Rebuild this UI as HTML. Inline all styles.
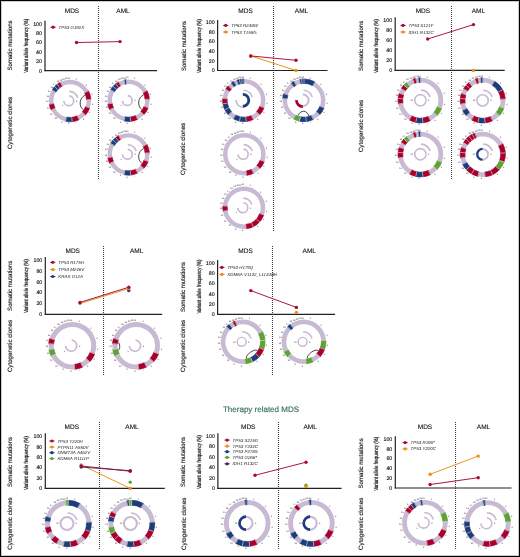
<!DOCTYPE html>
<html><head><meta charset="utf-8"><style>
html,body{margin:0;padding:0;background:#fff;}
#f{position:relative;width:520px;height:557px;overflow:hidden;background:#fff;}
#f svg{position:absolute;left:0;top:0;will-change:transform;}
#b{position:absolute;left:0;top:0;width:518px;height:555px;border:1px solid #000;box-shadow:inset 0 0 0 1px rgba(0,0,0,0.2);}
text{font-family:"Liberation Sans", sans-serif;text-rendering:geometricPrecision;}
</style></head><body><div id="f">
<svg width="520" height="557" viewBox="0 0 520 557" font-family='"Liberation Sans", sans-serif'>
<g><line x1="98.5" y1="6" x2="98.5" y2="179" stroke="#3a3a3a" stroke-width="1.1" stroke-dasharray="1 1"/><line x1="45" y1="20.8" x2="45" y2="71.3" stroke="#222" stroke-width="1.2"/><line x1="44.4" y1="70.7" x2="157" y2="70.7" stroke="#222" stroke-width="1.2"/><text x="42.00" y="72.55" font-size="5.3" text-anchor="end" fill="#1a1a1a" font-weight="normal" font-style="normal" stroke="#1a1a1a" stroke-width="0.15">0</text><text x="42.00" y="63.17" font-size="5.3" text-anchor="end" fill="#1a1a1a" font-weight="normal" font-style="normal" stroke="#1a1a1a" stroke-width="0.15">20</text><text x="42.00" y="53.79" font-size="5.3" text-anchor="end" fill="#1a1a1a" font-weight="normal" font-style="normal" stroke="#1a1a1a" stroke-width="0.15">40</text><text x="42.00" y="44.41" font-size="5.3" text-anchor="end" fill="#1a1a1a" font-weight="normal" font-style="normal" stroke="#1a1a1a" stroke-width="0.15">60</text><text x="42.00" y="35.03" font-size="5.3" text-anchor="end" fill="#1a1a1a" font-weight="normal" font-style="normal" stroke="#1a1a1a" stroke-width="0.15">80</text><text x="42.00" y="25.65" font-size="5.3" text-anchor="end" fill="#1a1a1a" font-weight="normal" font-style="normal" stroke="#1a1a1a" stroke-width="0.15">100</text><text x="72.00" y="13.20" font-size="6.5" text-anchor="middle" fill="#111" font-weight="normal" font-style="normal" stroke="#111" stroke-width="0.1">MDS</text><text x="123.00" y="13.20" font-size="6.5" text-anchor="middle" fill="#111" font-weight="normal" font-style="normal" stroke="#111" stroke-width="0.1">AML</text><line x1="76.5" y1="42.56" x2="120" y2="41.62" stroke="#ab0a2e" stroke-width="0.95"/><circle cx="76.5" cy="42.56" r="1.7" fill="#ab0a2e"/><circle cx="120" cy="41.62" r="1.7" fill="#ab0a2e"/><line x1="50.5" y1="27.2" x2="55.7" y2="27.2" stroke="#ab0a2e" stroke-width="1.0"/><circle cx="53.1" cy="27.2" r="1.6" fill="#ab0a2e"/><text x="58.60" y="28.75" font-size="4.45" fill="#222"><tspan font-style="italic">TP53</tspan> <tspan font-style="italic">G192X</tspan></text><text x="12.15" y="45.50" font-size="6.2" text-anchor="middle" fill="#1a1a1a" font-weight="normal" font-style="normal" transform="rotate(-90 12.15 45.50)" textLength="50.2" lengthAdjust="spacingAndGlyphs" stroke="#1a1a1a" stroke-width="0.15">Somatic mutations</text><text x="28.00" y="45.80" font-size="5.9" text-anchor="middle" fill="#1a1a1a" font-weight="normal" font-style="normal" transform="rotate(-90 28.00 45.80)" textLength="54" lengthAdjust="spacingAndGlyphs" stroke="#1a1a1a" stroke-width="0.2">Variant allele frequency (%)</text><text x="12.00" y="123.00" font-size="6.25" text-anchor="middle" fill="#1a1a1a" font-weight="normal" font-style="normal" transform="rotate(-90 12.00 123.00)" textLength="52.2" lengthAdjust="spacingAndGlyphs" stroke="#1a1a1a" stroke-width="0.15">Cytogenetic clones</text></g><g><line x1="273.5" y1="6" x2="273.5" y2="231.5" stroke="#3a3a3a" stroke-width="1.1" stroke-dasharray="1 1"/><line x1="217.6" y1="19.9" x2="217.6" y2="71.1" stroke="#222" stroke-width="1.2"/><line x1="217.0" y1="70.5" x2="327.5" y2="70.5" stroke="#222" stroke-width="1.2"/><text x="214.60" y="72.35" font-size="5.3" text-anchor="end" fill="#1a1a1a" font-weight="normal" font-style="normal" stroke="#1a1a1a" stroke-width="0.15">0</text><text x="214.60" y="62.65" font-size="5.3" text-anchor="end" fill="#1a1a1a" font-weight="normal" font-style="normal" stroke="#1a1a1a" stroke-width="0.15">20</text><text x="214.60" y="52.95" font-size="5.3" text-anchor="end" fill="#1a1a1a" font-weight="normal" font-style="normal" stroke="#1a1a1a" stroke-width="0.15">40</text><text x="214.60" y="43.25" font-size="5.3" text-anchor="end" fill="#1a1a1a" font-weight="normal" font-style="normal" stroke="#1a1a1a" stroke-width="0.15">60</text><text x="214.60" y="33.55" font-size="5.3" text-anchor="end" fill="#1a1a1a" font-weight="normal" font-style="normal" stroke="#1a1a1a" stroke-width="0.15">80</text><text x="214.60" y="23.85" font-size="5.3" text-anchor="end" fill="#1a1a1a" font-weight="normal" font-style="normal" stroke="#1a1a1a" stroke-width="0.15">100</text><text x="245.60" y="13.20" font-size="6.5" text-anchor="middle" fill="#111" font-weight="normal" font-style="normal" stroke="#111" stroke-width="0.1">MDS</text><text x="301.50" y="13.20" font-size="6.5" text-anchor="middle" fill="#111" font-weight="normal" font-style="normal" stroke="#111" stroke-width="0.1">AML</text><line x1="250.8" y1="55.95" x2="296" y2="70.50" stroke="#e6900f" stroke-width="0.95"/><line x1="250.8" y1="55.95" x2="296" y2="60.31" stroke="#ab0a2e" stroke-width="0.95"/><circle cx="250.8" cy="55.95" r="1.7" fill="#e6900f"/><circle cx="296" cy="70.50" r="1.7" fill="#e6900f"/><circle cx="250.8" cy="55.95" r="1.7" fill="#ab0a2e"/><circle cx="296" cy="60.31" r="1.7" fill="#ab0a2e"/><line x1="223.1" y1="25.4" x2="228.29999999999998" y2="25.4" stroke="#ab0a2e" stroke-width="1.0"/><circle cx="225.7" cy="25.4" r="1.6" fill="#ab0a2e"/><text x="231.20" y="26.95" font-size="4.45" fill="#222"><tspan font-style="italic">TP53</tspan> <tspan font-style="italic">R248W</tspan></text><line x1="223.1" y1="32.0" x2="228.29999999999998" y2="32.0" stroke="#e6900f" stroke-width="1.0"/><circle cx="225.7" cy="32.0" r="1.6" fill="#e6900f"/><text x="231.20" y="33.55" font-size="4.45" fill="#222"><tspan font-style="italic">TP53</tspan> <tspan font-style="italic">T155fs</tspan></text><text x="185.75" y="46.00" font-size="6.2" text-anchor="middle" fill="#1a1a1a" font-weight="normal" font-style="normal" transform="rotate(-90 185.75 46.00)" textLength="50.2" lengthAdjust="spacingAndGlyphs" stroke="#1a1a1a" stroke-width="0.15">Somatic mutations</text><text x="200.60" y="46.00" font-size="5.9" text-anchor="middle" fill="#1a1a1a" font-weight="normal" font-style="normal" transform="rotate(-90 200.60 46.00)" textLength="54" lengthAdjust="spacingAndGlyphs" stroke="#1a1a1a" stroke-width="0.2">Variant allele frequency (%)</text><text x="185.00" y="149.00" font-size="6.25" text-anchor="middle" fill="#1a1a1a" font-weight="normal" font-style="normal" transform="rotate(-90 185.00 149.00)" textLength="52.2" lengthAdjust="spacingAndGlyphs" stroke="#1a1a1a" stroke-width="0.15">Cytogenetic clones</text></g><g><line x1="451.5" y1="6" x2="451.5" y2="179.4" stroke="#3a3a3a" stroke-width="1.1" stroke-dasharray="1 1"/><line x1="395.2" y1="17.3" x2="395.2" y2="71.0" stroke="#222" stroke-width="1.2"/><line x1="394.59999999999997" y1="70.4" x2="504.7" y2="70.4" stroke="#222" stroke-width="1.2"/><text x="392.20" y="72.25" font-size="5.3" text-anchor="end" fill="#1a1a1a" font-weight="normal" font-style="normal" stroke="#1a1a1a" stroke-width="0.15">0</text><text x="392.20" y="62.29" font-size="5.3" text-anchor="end" fill="#1a1a1a" font-weight="normal" font-style="normal" stroke="#1a1a1a" stroke-width="0.15">20</text><text x="392.20" y="52.33" font-size="5.3" text-anchor="end" fill="#1a1a1a" font-weight="normal" font-style="normal" stroke="#1a1a1a" stroke-width="0.15">40</text><text x="392.20" y="42.37" font-size="5.3" text-anchor="end" fill="#1a1a1a" font-weight="normal" font-style="normal" stroke="#1a1a1a" stroke-width="0.15">60</text><text x="392.20" y="32.41" font-size="5.3" text-anchor="end" fill="#1a1a1a" font-weight="normal" font-style="normal" stroke="#1a1a1a" stroke-width="0.15">80</text><text x="392.20" y="22.45" font-size="5.3" text-anchor="end" fill="#1a1a1a" font-weight="normal" font-style="normal" stroke="#1a1a1a" stroke-width="0.15">100</text><text x="422.90" y="13.20" font-size="6.5" text-anchor="middle" fill="#111" font-weight="normal" font-style="normal" stroke="#111" stroke-width="0.1">MDS</text><text x="478.40" y="13.20" font-size="6.5" text-anchor="middle" fill="#111" font-weight="normal" font-style="normal" stroke="#111" stroke-width="0.1">AML</text><line x1="427.7" y1="39.03" x2="473.5" y2="24.58" stroke="#ab0a2e" stroke-width="0.95"/><circle cx="473.5" cy="70.40" r="1.7" fill="#e6900f"/><circle cx="427.7" cy="39.03" r="1.7" fill="#ab0a2e"/><circle cx="473.5" cy="24.58" r="1.7" fill="#ab0a2e"/><line x1="400.4" y1="25.4" x2="405.6" y2="25.4" stroke="#ab0a2e" stroke-width="1.0"/><circle cx="403" cy="25.4" r="1.6" fill="#ab0a2e"/><text x="408.50" y="26.95" font-size="4.45" fill="#222"><tspan font-style="italic">TP53</tspan> <tspan font-style="italic">S121F</tspan></text><line x1="400.4" y1="32.0" x2="405.6" y2="32.0" stroke="#e6900f" stroke-width="1.0"/><circle cx="403" cy="32.0" r="1.6" fill="#e6900f"/><text x="408.50" y="33.55" font-size="4.45" fill="#222"><tspan font-style="italic">IDH1</tspan> <tspan font-style="italic">R132C</tspan></text><text x="362.55" y="45.80" font-size="6.2" text-anchor="middle" fill="#1a1a1a" font-weight="normal" font-style="normal" transform="rotate(-90 362.55 45.80)" textLength="50.2" lengthAdjust="spacingAndGlyphs" stroke="#1a1a1a" stroke-width="0.15">Somatic mutations</text><text x="378.20" y="46.00" font-size="5.9" text-anchor="middle" fill="#1a1a1a" font-weight="normal" font-style="normal" transform="rotate(-90 378.20 46.00)" textLength="54" lengthAdjust="spacingAndGlyphs" stroke="#1a1a1a" stroke-width="0.2">Variant allele frequency (%)</text><text x="362.80" y="126.00" font-size="6.25" text-anchor="middle" fill="#1a1a1a" font-weight="normal" font-style="normal" transform="rotate(-90 362.80 126.00)" textLength="52.2" lengthAdjust="spacingAndGlyphs" stroke="#1a1a1a" stroke-width="0.15">Cytogenetic clones</text></g><g><line x1="103.5" y1="246" x2="103.5" y2="375.8" stroke="#3a3a3a" stroke-width="1.1" stroke-dasharray="1 1"/><line x1="45.3" y1="257.1" x2="45.3" y2="315.0" stroke="#222" stroke-width="1.2"/><line x1="44.699999999999996" y1="314.4" x2="162.2" y2="314.4" stroke="#222" stroke-width="1.2"/><text x="42.30" y="316.25" font-size="5.3" text-anchor="end" fill="#1a1a1a" font-weight="normal" font-style="normal" stroke="#1a1a1a" stroke-width="0.15">0</text><text x="42.30" y="305.37" font-size="5.3" text-anchor="end" fill="#1a1a1a" font-weight="normal" font-style="normal" stroke="#1a1a1a" stroke-width="0.15">20</text><text x="42.30" y="294.49" font-size="5.3" text-anchor="end" fill="#1a1a1a" font-weight="normal" font-style="normal" stroke="#1a1a1a" stroke-width="0.15">40</text><text x="42.30" y="283.61" font-size="5.3" text-anchor="end" fill="#1a1a1a" font-weight="normal" font-style="normal" stroke="#1a1a1a" stroke-width="0.15">60</text><text x="42.30" y="272.73" font-size="5.3" text-anchor="end" fill="#1a1a1a" font-weight="normal" font-style="normal" stroke="#1a1a1a" stroke-width="0.15">80</text><text x="42.30" y="261.85" font-size="5.3" text-anchor="end" fill="#1a1a1a" font-weight="normal" font-style="normal" stroke="#1a1a1a" stroke-width="0.15">100</text><text x="72.70" y="253.20" font-size="6.5" text-anchor="middle" fill="#111" font-weight="normal" font-style="normal" stroke="#111" stroke-width="0.1">MDS</text><text x="136.60" y="253.20" font-size="6.5" text-anchor="middle" fill="#111" font-weight="normal" font-style="normal" stroke="#111" stroke-width="0.1">AML</text><line x1="80" y1="303.52" x2="128.8" y2="288.56" stroke="#e6900f" stroke-width="0.95"/><line x1="80" y1="302.43" x2="128.8" y2="287.20" stroke="#ab0a2e" stroke-width="0.95"/><circle cx="128.8" cy="290.46" r="1.7" fill="#1d3c7c"/><circle cx="80" cy="303.52" r="1.7" fill="#e6900f"/><circle cx="128.8" cy="288.56" r="1.7" fill="#e6900f"/><circle cx="80" cy="302.43" r="1.7" fill="#ab0a2e"/><circle cx="128.8" cy="287.20" r="1.7" fill="#ab0a2e"/><line x1="50.199999999999996" y1="262.3" x2="55.4" y2="262.3" stroke="#ab0a2e" stroke-width="1.0"/><circle cx="52.8" cy="262.3" r="1.6" fill="#ab0a2e"/><text x="58.30" y="263.85" font-size="4.45" fill="#222"><tspan font-style="italic">TP53</tspan> <tspan font-style="italic">R175H</tspan></text><line x1="50.199999999999996" y1="269.6" x2="55.4" y2="269.6" stroke="#e6900f" stroke-width="1.0"/><circle cx="52.8" cy="269.6" r="1.6" fill="#e6900f"/><text x="58.30" y="271.15" font-size="4.45" fill="#222"><tspan font-style="italic">TP53</tspan> <tspan font-style="italic">M246V</tspan></text><line x1="50.199999999999996" y1="276.5" x2="55.4" y2="276.5" stroke="#1d3c7c" stroke-width="1.0"/><circle cx="52.8" cy="276.5" r="1.6" fill="#1d3c7c"/><text x="58.30" y="278.05" font-size="4.45" fill="#222"><tspan font-style="italic">KRAS</tspan> <tspan font-style="italic">G12A</tspan></text><text x="12.35" y="285.80" font-size="6.2" text-anchor="middle" fill="#1a1a1a" font-weight="normal" font-style="normal" transform="rotate(-90 12.35 285.80)" textLength="50.2" lengthAdjust="spacingAndGlyphs" stroke="#1a1a1a" stroke-width="0.15">Somatic mutations</text><text x="28.10" y="286.00" font-size="5.9" text-anchor="middle" fill="#1a1a1a" font-weight="normal" font-style="normal" transform="rotate(-90 28.10 286.00)" textLength="54" lengthAdjust="spacingAndGlyphs" stroke="#1a1a1a" stroke-width="0.2">Variant allele frequency (%)</text><text x="12.40" y="346.00" font-size="6.25" text-anchor="middle" fill="#1a1a1a" font-weight="normal" font-style="normal" transform="rotate(-90 12.40 346.00)" textLength="52.2" lengthAdjust="spacingAndGlyphs" stroke="#1a1a1a" stroke-width="0.15">Cytogenetic clones</text></g><g><line x1="272.5" y1="246" x2="272.5" y2="375.8" stroke="#3a3a3a" stroke-width="1.1" stroke-dasharray="1 1"/><line x1="217.6" y1="260.0" x2="217.6" y2="315.0" stroke="#222" stroke-width="1.2"/><line x1="217.0" y1="314.4" x2="335.1" y2="314.4" stroke="#222" stroke-width="1.2"/><text x="214.60" y="316.25" font-size="5.3" text-anchor="end" fill="#1a1a1a" font-weight="normal" font-style="normal" stroke="#1a1a1a" stroke-width="0.15">0</text><text x="214.60" y="305.91" font-size="5.3" text-anchor="end" fill="#1a1a1a" font-weight="normal" font-style="normal" stroke="#1a1a1a" stroke-width="0.15">20</text><text x="214.60" y="295.57" font-size="5.3" text-anchor="end" fill="#1a1a1a" font-weight="normal" font-style="normal" stroke="#1a1a1a" stroke-width="0.15">40</text><text x="214.60" y="285.23" font-size="5.3" text-anchor="end" fill="#1a1a1a" font-weight="normal" font-style="normal" stroke="#1a1a1a" stroke-width="0.15">60</text><text x="214.60" y="274.89" font-size="5.3" text-anchor="end" fill="#1a1a1a" font-weight="normal" font-style="normal" stroke="#1a1a1a" stroke-width="0.15">80</text><text x="214.60" y="264.55" font-size="5.3" text-anchor="end" fill="#1a1a1a" font-weight="normal" font-style="normal" stroke="#1a1a1a" stroke-width="0.15">100</text><text x="245.60" y="253.20" font-size="6.5" text-anchor="middle" fill="#111" font-weight="normal" font-style="normal" stroke="#111" stroke-width="0.1">MDS</text><text x="309.30" y="253.20" font-size="6.5" text-anchor="middle" fill="#111" font-weight="normal" font-style="normal" stroke="#111" stroke-width="0.1">AML</text><line x1="250.8" y1="290.62" x2="296.4" y2="307.42" stroke="#ab0a2e" stroke-width="0.95"/><circle cx="296.4" cy="312.33" r="1.7" fill="#e6900f"/><circle cx="250.8" cy="290.62" r="1.7" fill="#ab0a2e"/><circle cx="296.4" cy="307.42" r="1.7" fill="#ab0a2e"/><line x1="219.3" y1="267.4" x2="224.5" y2="267.4" stroke="#ab0a2e" stroke-width="1.0"/><circle cx="221.9" cy="267.4" r="1.6" fill="#ab0a2e"/><text x="227.40" y="268.95" font-size="4.45" fill="#222"><tspan font-style="italic">TP53</tspan> <tspan font-style="italic">H179Q</tspan></text><line x1="219.3" y1="274.4" x2="224.5" y2="274.4" stroke="#e6900f" stroke-width="1.0"/><circle cx="221.9" cy="274.4" r="1.6" fill="#e6900f"/><text x="227.40" y="275.95" font-size="4.45" fill="#222"><tspan font-style="italic">KDM6A</tspan> <tspan font-style="italic">V1132_L1134del</tspan></text><text x="184.95" y="287.00" font-size="6.2" text-anchor="middle" fill="#1a1a1a" font-weight="normal" font-style="normal" transform="rotate(-90 184.95 287.00)" textLength="50.2" lengthAdjust="spacingAndGlyphs" stroke="#1a1a1a" stroke-width="0.15">Somatic mutations</text><text x="200.60" y="286.50" font-size="5.9" text-anchor="middle" fill="#1a1a1a" font-weight="normal" font-style="normal" transform="rotate(-90 200.60 286.50)" textLength="54" lengthAdjust="spacingAndGlyphs" stroke="#1a1a1a" stroke-width="0.2">Variant allele frequency (%)</text><text x="185.30" y="346.00" font-size="6.25" text-anchor="middle" fill="#1a1a1a" font-weight="normal" font-style="normal" transform="rotate(-90 185.30 346.00)" textLength="52.2" lengthAdjust="spacingAndGlyphs" stroke="#1a1a1a" stroke-width="0.15">Cytogenetic clones</text></g><g><line x1="99.5" y1="422" x2="99.5" y2="549.6" stroke="#3a3a3a" stroke-width="1.1" stroke-dasharray="1 1"/><line x1="45.3" y1="433.2" x2="45.3" y2="489.0" stroke="#222" stroke-width="1.2"/><line x1="44.699999999999996" y1="488.4" x2="164.8" y2="488.4" stroke="#222" stroke-width="1.2"/><text x="42.30" y="490.25" font-size="5.3" text-anchor="end" fill="#1a1a1a" font-weight="normal" font-style="normal" stroke="#1a1a1a" stroke-width="0.15">0</text><text x="42.30" y="479.83" font-size="5.3" text-anchor="end" fill="#1a1a1a" font-weight="normal" font-style="normal" stroke="#1a1a1a" stroke-width="0.15">20</text><text x="42.30" y="469.41" font-size="5.3" text-anchor="end" fill="#1a1a1a" font-weight="normal" font-style="normal" stroke="#1a1a1a" stroke-width="0.15">40</text><text x="42.30" y="458.99" font-size="5.3" text-anchor="end" fill="#1a1a1a" font-weight="normal" font-style="normal" stroke="#1a1a1a" stroke-width="0.15">60</text><text x="42.30" y="448.57" font-size="5.3" text-anchor="end" fill="#1a1a1a" font-weight="normal" font-style="normal" stroke="#1a1a1a" stroke-width="0.15">80</text><text x="42.30" y="438.15" font-size="5.3" text-anchor="end" fill="#1a1a1a" font-weight="normal" font-style="normal" stroke="#1a1a1a" stroke-width="0.15">100</text><text x="71.80" y="429.00" font-size="6.5" text-anchor="middle" fill="#111" font-weight="normal" font-style="normal" stroke="#111" stroke-width="0.1">MDS</text><text x="132.00" y="429.00" font-size="6.5" text-anchor="middle" fill="#111" font-weight="normal" font-style="normal" stroke="#111" stroke-width="0.1">AML</text><line x1="81.2" y1="464.95" x2="130.2" y2="488.40" stroke="#e6900f" stroke-width="0.95"/><line x1="81.2" y1="467.04" x2="130.2" y2="470.69" stroke="#1d3c7c" stroke-width="0.95"/><line x1="81.2" y1="466.00" x2="130.2" y2="471.21" stroke="#ab0a2e" stroke-width="0.95"/><circle cx="130.2" cy="482.15" r="1.7" fill="#5ea236"/><circle cx="81.2" cy="464.95" r="1.7" fill="#e6900f"/><circle cx="130.2" cy="488.40" r="1.7" fill="#e6900f"/><circle cx="81.2" cy="467.04" r="1.7" fill="#1d3c7c"/><circle cx="130.2" cy="470.69" r="1.7" fill="#1d3c7c"/><circle cx="81.2" cy="466.00" r="1.7" fill="#ab0a2e"/><circle cx="130.2" cy="471.21" r="1.7" fill="#ab0a2e"/><line x1="49.3" y1="441" x2="54.5" y2="441" stroke="#ab0a2e" stroke-width="1.0"/><circle cx="51.9" cy="441" r="1.6" fill="#ab0a2e"/><text x="57.40" y="442.55" font-size="4.45" fill="#222"><tspan font-style="italic">TP53</tspan> <tspan font-style="italic">Y220H</tspan></text><line x1="49.3" y1="447" x2="54.5" y2="447" stroke="#e6900f" stroke-width="1.0"/><circle cx="51.9" cy="447" r="1.6" fill="#e6900f"/><text x="57.40" y="448.55" font-size="4.45" fill="#222"><tspan font-style="italic">PTPN11</tspan> <tspan font-style="italic">A550V</tspan></text><line x1="49.3" y1="452.7" x2="54.5" y2="452.7" stroke="#1d3c7c" stroke-width="1.0"/><circle cx="51.9" cy="452.7" r="1.6" fill="#1d3c7c"/><text x="57.40" y="454.25" font-size="4.45" fill="#222"><tspan font-style="italic">DNMT3A</tspan> <tspan font-style="italic">A462V</tspan></text><line x1="49.3" y1="458.6" x2="54.5" y2="458.6" stroke="#5ea236" stroke-width="1.0"/><circle cx="51.9" cy="458.6" r="1.6" fill="#5ea236"/><text x="57.40" y="460.15" font-size="4.45" fill="#222"><tspan font-style="italic">KDM6A</tspan> <tspan font-style="italic">R1111P</tspan></text><text x="12.35" y="462.00" font-size="6.2" text-anchor="middle" fill="#1a1a1a" font-weight="normal" font-style="normal" transform="rotate(-90 12.35 462.00)" textLength="50.2" lengthAdjust="spacingAndGlyphs" stroke="#1a1a1a" stroke-width="0.15">Somatic mutations</text><text x="28.10" y="463.00" font-size="5.9" text-anchor="middle" fill="#1a1a1a" font-weight="normal" font-style="normal" transform="rotate(-90 28.10 463.00)" textLength="54" lengthAdjust="spacingAndGlyphs" stroke="#1a1a1a" stroke-width="0.2">Variant allele frequency (%)</text><text x="12.40" y="523.60" font-size="6.25" text-anchor="middle" fill="#1a1a1a" font-weight="normal" font-style="normal" transform="rotate(-90 12.40 523.60)" textLength="52.2" lengthAdjust="spacingAndGlyphs" stroke="#1a1a1a" stroke-width="0.15">Cytogenetic clones</text></g><g><line x1="278.5" y1="422" x2="278.5" y2="549.6" stroke="#3a3a3a" stroke-width="1.1" stroke-dasharray="1 1"/><line x1="217.9" y1="433.2" x2="217.9" y2="489.0" stroke="#222" stroke-width="1.2"/><line x1="217.3" y1="488.4" x2="341.6" y2="488.4" stroke="#222" stroke-width="1.2"/><text x="214.90" y="490.25" font-size="5.3" text-anchor="end" fill="#1a1a1a" font-weight="normal" font-style="normal" stroke="#1a1a1a" stroke-width="0.15">0</text><text x="214.90" y="479.77" font-size="5.3" text-anchor="end" fill="#1a1a1a" font-weight="normal" font-style="normal" stroke="#1a1a1a" stroke-width="0.15">20</text><text x="214.90" y="469.29" font-size="5.3" text-anchor="end" fill="#1a1a1a" font-weight="normal" font-style="normal" stroke="#1a1a1a" stroke-width="0.15">40</text><text x="214.90" y="458.81" font-size="5.3" text-anchor="end" fill="#1a1a1a" font-weight="normal" font-style="normal" stroke="#1a1a1a" stroke-width="0.15">60</text><text x="214.90" y="448.33" font-size="5.3" text-anchor="end" fill="#1a1a1a" font-weight="normal" font-style="normal" stroke="#1a1a1a" stroke-width="0.15">80</text><text x="214.90" y="437.85" font-size="5.3" text-anchor="end" fill="#1a1a1a" font-weight="normal" font-style="normal" stroke="#1a1a1a" stroke-width="0.15">100</text><text x="248.20" y="429.00" font-size="6.5" text-anchor="middle" fill="#111" font-weight="normal" font-style="normal" stroke="#111" stroke-width="0.1">MDS</text><text x="310.20" y="429.00" font-size="6.5" text-anchor="middle" fill="#111" font-weight="normal" font-style="normal" stroke="#111" stroke-width="0.1">AML</text><line x1="255" y1="475.30" x2="306" y2="462.20" stroke="#ab0a2e" stroke-width="0.95"/><circle cx="306" cy="485.26" r="1.7" fill="#5ea236"/><circle cx="306" cy="486.57" r="1.7" fill="#e6900f"/><circle cx="255" cy="475.30" r="1.7" fill="#ab0a2e"/><circle cx="306" cy="462.20" r="1.7" fill="#ab0a2e"/><line x1="224.5" y1="440.1" x2="229.7" y2="440.1" stroke="#ab0a2e" stroke-width="1.0"/><circle cx="227.1" cy="440.1" r="1.6" fill="#ab0a2e"/><text x="232.60" y="441.65" font-size="4.45" fill="#222"><tspan font-style="italic">TP53</tspan> <tspan font-style="italic">S215G</tspan></text><line x1="224.5" y1="446.1" x2="229.7" y2="446.1" stroke="#e6900f" stroke-width="1.0"/><circle cx="227.1" cy="446.1" r="1.6" fill="#e6900f"/><text x="232.60" y="447.65" font-size="4.45" fill="#222"><tspan font-style="italic">TP53</tspan> <tspan font-style="italic">Y234C</tspan></text><line x1="224.5" y1="451.7" x2="229.7" y2="451.7" stroke="#1d3c7c" stroke-width="1.0"/><circle cx="227.1" cy="451.7" r="1.6" fill="#1d3c7c"/><text x="232.60" y="453.25" font-size="4.45" fill="#222"><tspan font-style="italic">TP53</tspan> <tspan font-style="italic">P278S</tspan></text><line x1="224.5" y1="457.4" x2="229.7" y2="457.4" stroke="#5ea236" stroke-width="1.0"/><circle cx="227.1" cy="457.4" r="1.6" fill="#5ea236"/><text x="232.60" y="458.95" font-size="4.45" fill="#222"><tspan font-style="italic">TP53</tspan> <tspan font-style="italic">G266*</tspan></text><line x1="224.5" y1="463.8" x2="229.7" y2="463.8" stroke="#4a1f6a" stroke-width="1.0"/><circle cx="227.1" cy="463.8" r="1.6" fill="#4a1f6a"/><text x="232.60" y="465.35" font-size="4.45" fill="#222"><tspan font-style="italic">IDH1</tspan> <tspan font-style="italic">R132C</tspan></text><text x="185.45" y="462.00" font-size="6.2" text-anchor="middle" fill="#1a1a1a" font-weight="normal" font-style="normal" transform="rotate(-90 185.45 462.00)" textLength="50.2" lengthAdjust="spacingAndGlyphs" stroke="#1a1a1a" stroke-width="0.15">Somatic mutations</text><text x="200.60" y="462.00" font-size="5.9" text-anchor="middle" fill="#1a1a1a" font-weight="normal" font-style="normal" transform="rotate(-90 200.60 462.00)" textLength="54" lengthAdjust="spacingAndGlyphs" stroke="#1a1a1a" stroke-width="0.2">Variant allele frequency (%)</text><text x="185.80" y="523.80" font-size="6.25" text-anchor="middle" fill="#1a1a1a" font-weight="normal" font-style="normal" transform="rotate(-90 185.80 523.80)" textLength="52.2" lengthAdjust="spacingAndGlyphs" stroke="#1a1a1a" stroke-width="0.15">Cytogenetic clones</text></g><g><line x1="455.5" y1="422" x2="455.5" y2="549.6" stroke="#3a3a3a" stroke-width="1.1" stroke-dasharray="1 1"/><line x1="395.3" y1="436.3" x2="395.3" y2="488.6" stroke="#222" stroke-width="1.2"/><line x1="394.7" y1="488.0" x2="511.6" y2="488.0" stroke="#222" stroke-width="1.2"/><text x="392.30" y="489.85" font-size="5.3" text-anchor="end" fill="#1a1a1a" font-weight="normal" font-style="normal" stroke="#1a1a1a" stroke-width="0.15">0</text><text x="392.30" y="480.03" font-size="5.3" text-anchor="end" fill="#1a1a1a" font-weight="normal" font-style="normal" stroke="#1a1a1a" stroke-width="0.15">20</text><text x="392.30" y="470.21" font-size="5.3" text-anchor="end" fill="#1a1a1a" font-weight="normal" font-style="normal" stroke="#1a1a1a" stroke-width="0.15">40</text><text x="392.30" y="460.39" font-size="5.3" text-anchor="end" fill="#1a1a1a" font-weight="normal" font-style="normal" stroke="#1a1a1a" stroke-width="0.15">60</text><text x="392.30" y="450.57" font-size="5.3" text-anchor="end" fill="#1a1a1a" font-weight="normal" font-style="normal" stroke="#1a1a1a" stroke-width="0.15">80</text><text x="392.30" y="440.75" font-size="5.3" text-anchor="end" fill="#1a1a1a" font-weight="normal" font-style="normal" stroke="#1a1a1a" stroke-width="0.15">100</text><text x="425.00" y="429.00" font-size="6.5" text-anchor="middle" fill="#111" font-weight="normal" font-style="normal" stroke="#111" stroke-width="0.1">MDS</text><text x="483.50" y="429.00" font-size="6.5" text-anchor="middle" fill="#111" font-weight="normal" font-style="normal" stroke="#111" stroke-width="0.1">AML</text><line x1="430.1" y1="474.25" x2="478.2" y2="456.08" stroke="#e6900f" stroke-width="0.95"/><line x1="430.1" y1="484.56" x2="478.2" y2="477.69" stroke="#ab0a2e" stroke-width="0.95"/><circle cx="430.1" cy="474.25" r="1.7" fill="#e6900f"/><circle cx="478.2" cy="456.08" r="1.7" fill="#e6900f"/><circle cx="430.1" cy="484.56" r="1.7" fill="#ab0a2e"/><circle cx="478.2" cy="477.69" r="1.7" fill="#ab0a2e"/><line x1="402.5" y1="442.6" x2="407.70000000000005" y2="442.6" stroke="#ab0a2e" stroke-width="1.0"/><circle cx="405.1" cy="442.6" r="1.6" fill="#ab0a2e"/><text x="410.60" y="444.15" font-size="4.45" fill="#222"><tspan font-style="italic">TP53</tspan> <tspan font-style="italic">R196*</tspan></text><line x1="402.5" y1="448.9" x2="407.70000000000005" y2="448.9" stroke="#e6900f" stroke-width="1.0"/><circle cx="405.1" cy="448.9" r="1.6" fill="#e6900f"/><text x="410.60" y="450.45" font-size="4.45" fill="#222"><tspan font-style="italic">TP53</tspan> <tspan font-style="italic">Y220C</tspan></text><text x="362.65" y="463.40" font-size="6.2" text-anchor="middle" fill="#1a1a1a" font-weight="normal" font-style="normal" transform="rotate(-90 362.65 463.40)" textLength="50.2" lengthAdjust="spacingAndGlyphs" stroke="#1a1a1a" stroke-width="0.15">Somatic mutations</text><text x="378.30" y="463.80" font-size="5.9" text-anchor="middle" fill="#1a1a1a" font-weight="normal" font-style="normal" transform="rotate(-90 378.30 463.80)" textLength="54" lengthAdjust="spacingAndGlyphs" stroke="#1a1a1a" stroke-width="0.2">Variant allele frequency (%)</text><text x="362.70" y="523.80" font-size="6.25" text-anchor="middle" fill="#1a1a1a" font-weight="normal" font-style="normal" transform="rotate(-90 362.70 523.80)" textLength="52.2" lengthAdjust="spacingAndGlyphs" stroke="#1a1a1a" stroke-width="0.15">Cytogenetic clones</text></g><g><circle cx="70.00" cy="100.80" r="18.80" fill="none" stroke="#c9bad4" stroke-width="4.41"/><path d="M88.46,90.79A21.00,21.00 0 0 1 90.96,99.44L86.56,99.72A16.59,16.59 0 0 0 84.58,92.89Z" fill="#a8002c" stroke="#a8002c" stroke-width="0.6" stroke-linejoin="round"/><path d="M89.71,108.04A21.00,21.00 0 0 1 85.42,115.06L82.18,112.07A16.59,16.59 0 0 0 85.57,106.52Z" fill="#a8002c" stroke="#a8002c" stroke-width="0.6" stroke-linejoin="round"/><path d="M79.16,119.70A21.00,21.00 0 0 1 72.18,121.69L71.72,117.30A16.59,16.59 0 0 0 77.23,115.73Z" fill="#a8002c" stroke="#a8002c" stroke-width="0.6" stroke-linejoin="round"/><path d="M72.18,121.69A21.00,21.00 0 0 1 65.52,121.32L66.46,117.01A16.59,16.59 0 0 0 71.72,117.30Z" fill="#1d3c7c" stroke="#1d3c7c" stroke-width="0.6" stroke-linejoin="round"/><path d="M51.16,110.08A21.00,21.00 0 0 1 49.29,104.27L53.64,103.54A16.59,16.59 0 0 0 55.12,108.13Z" fill="#a8002c" stroke="#a8002c" stroke-width="0.6" stroke-linejoin="round"/><path d="M52.02,89.95A21.00,21.00 0 0 1 57.23,84.13L59.91,87.63A16.59,16.59 0 0 0 55.80,92.23Z" fill="#1d3c7c" stroke="#1d3c7c" stroke-width="0.6" stroke-linejoin="round"/><path d="M57.23,84.13A21.00,21.00 0 0 1 60.24,82.20L62.29,86.11A16.59,16.59 0 0 0 59.91,87.63Z" fill="#a8002c" stroke="#a8002c" stroke-width="0.6" stroke-linejoin="round"/><line x1="84.50" y1="92.94" x2="88.55" y2="90.74" stroke="#e4e8f0" stroke-width="0.6"/><line x1="86.46" y1="99.73" x2="91.06" y2="99.43" stroke="#e4e8f0" stroke-width="0.6"/><line x1="85.48" y1="106.48" x2="89.81" y2="108.07" stroke="#e4e8f0" stroke-width="0.6"/><line x1="82.11" y1="112.00" x2="85.49" y2="115.13" stroke="#e4e8f0" stroke-width="0.6"/><line x1="77.19" y1="115.64" x2="79.20" y2="119.79" stroke="#e4e8f0" stroke-width="0.6"/><line x1="71.71" y1="117.20" x2="72.19" y2="121.79" stroke="#e4e8f0" stroke-width="0.6"/><line x1="66.48" y1="116.91" x2="65.50" y2="121.41" stroke="#e4e8f0" stroke-width="0.6"/><line x1="55.21" y1="108.09" x2="51.07" y2="110.12" stroke="#e4e8f0" stroke-width="0.6"/><line x1="53.74" y1="103.52" x2="49.19" y2="104.28" stroke="#e4e8f0" stroke-width="0.6"/><line x1="55.88" y1="92.28" x2="51.94" y2="89.90" stroke="#e4e8f0" stroke-width="0.6"/><line x1="57.82" y1="89.68" x2="54.42" y2="86.57" stroke="#e4e8f0" stroke-width="0.6"/><line x1="59.97" y1="87.71" x2="57.17" y2="84.05" stroke="#e4e8f0" stroke-width="0.6"/><line x1="62.34" y1="86.20" x2="60.20" y2="82.12" stroke="#e4e8f0" stroke-width="0.6"/><text x="76.12" y="79.59" font-size="2.3" text-anchor="middle" fill="#333">1</text><text x="86.49" y="85.81" font-size="2.3" text-anchor="middle" fill="#333">2</text><text x="91.91" y="95.23" font-size="2.3" text-anchor="middle" fill="#333">3</text><text x="92.57" y="104.81" font-size="2.3" text-anchor="middle" fill="#333">4</text><text x="89.45" y="113.45" font-size="2.3" text-anchor="middle" fill="#333">5</text><text x="83.57" y="119.87" font-size="2.3" text-anchor="middle" fill="#333">6</text><text x="76.25" y="123.48" font-size="2.3" text-anchor="middle" fill="#333">7</text><text x="68.73" y="124.31" font-size="2.3" text-anchor="middle" fill="#333">8</text><text x="61.77" y="122.81" font-size="2.3" text-anchor="middle" fill="#333">9</text><text x="55.83" y="119.41" font-size="2.3" text-anchor="middle" fill="#333">10</text><text x="51.25" y="114.52" font-size="2.3" text-anchor="middle" fill="#333">11</text><text x="48.30" y="108.54" font-size="2.3" text-anchor="middle" fill="#333">12</text><text x="47.22" y="102.47" font-size="2.3" text-anchor="middle" fill="#333">13</text><text x="47.67" y="96.97" font-size="2.3" text-anchor="middle" fill="#333">14</text><text x="49.29" y="92.02" font-size="2.3" text-anchor="middle" fill="#333">15</text><text x="51.73" y="87.90" font-size="2.3" text-anchor="middle" fill="#333">16</text><text x="54.59" y="84.75" font-size="2.3" text-anchor="middle" fill="#333">17</text><text x="57.73" y="82.34" font-size="2.3" text-anchor="middle" fill="#333">18</text><text x="60.73" y="80.72" font-size="2.3" text-anchor="middle" fill="#333">19</text><text x="63.58" y="79.67" font-size="2.3" text-anchor="middle" fill="#333">20</text><text x="66.27" y="79.06" font-size="2.3" text-anchor="middle" fill="#333">21</text><text x="68.73" y="78.79" font-size="2.3" text-anchor="middle" fill="#333">22</text><path d="M85.03,95.33C79.47,97.35 78.36,106.44 83.26,109.74" fill="none" stroke="#1a1a1a" stroke-width="0.8"/><path d="M69.29,91.36A9.45,9.45 0 0 1 77.74,97.72" fill="none" stroke="#c9bad4" stroke-width="1.6"/><path d="M69.23,95.88A4.93,4.93 0 1 1 63.87,100.97" fill="none" stroke="#c9bad4" stroke-width="1.7"/><text x="76.53" y="101.77" font-size="2.3" text-anchor="middle" fill="#444">8</text><text x="62.55" y="106.39" font-size="2.3" text-anchor="middle" fill="#444">5</text></g><g><circle cx="128.50" cy="100.50" r="18.80" fill="none" stroke="#c9bad4" stroke-width="4.41"/><path d="M146.96,90.49A21.00,21.00 0 0 1 149.46,99.14L145.06,99.42A16.59,16.59 0 0 0 143.08,92.59Z" fill="#a8002c" stroke="#a8002c" stroke-width="0.6" stroke-linejoin="round"/><path d="M148.21,107.74A21.00,21.00 0 0 1 143.92,114.76L140.68,111.77A16.59,16.59 0 0 0 144.07,106.22Z" fill="#a8002c" stroke="#a8002c" stroke-width="0.6" stroke-linejoin="round"/><path d="M137.66,119.40A21.00,21.00 0 0 1 130.68,121.39L130.22,117.00A16.59,16.59 0 0 0 135.73,115.43Z" fill="#a8002c" stroke="#a8002c" stroke-width="0.6" stroke-linejoin="round"/><path d="M130.68,121.39A21.00,21.00 0 0 1 124.02,121.02L124.96,116.71A16.59,16.59 0 0 0 130.22,117.00Z" fill="#1d3c7c" stroke="#1d3c7c" stroke-width="0.6" stroke-linejoin="round"/><path d="M109.66,109.78A21.00,21.00 0 0 1 107.79,103.97L112.14,103.24A16.59,16.59 0 0 0 113.62,107.83Z" fill="#a8002c" stroke="#a8002c" stroke-width="0.6" stroke-linejoin="round"/><path d="M110.52,89.65A21.00,21.00 0 0 1 115.73,83.83L118.41,87.33A16.59,16.59 0 0 0 114.30,91.93Z" fill="#1d3c7c" stroke="#1d3c7c" stroke-width="0.6" stroke-linejoin="round"/><path d="M115.73,83.83A21.00,21.00 0 0 1 118.74,81.90L120.79,85.81A16.59,16.59 0 0 0 118.41,87.33Z" fill="#a8002c" stroke="#a8002c" stroke-width="0.6" stroke-linejoin="round"/><path d="M123.98,79.99A21.00,21.00 0 0 1 126.16,79.63L126.65,84.01A16.59,16.59 0 0 0 124.93,84.30Z" fill="#1d3c7c" stroke="#1d3c7c" stroke-width="0.6" stroke-linejoin="round"/><line x1="143.00" y1="92.64" x2="147.05" y2="90.44" stroke="#e4e8f0" stroke-width="0.6"/><line x1="144.96" y1="99.43" x2="149.56" y2="99.13" stroke="#e4e8f0" stroke-width="0.6"/><line x1="143.98" y1="106.18" x2="148.31" y2="107.77" stroke="#e4e8f0" stroke-width="0.6"/><line x1="140.61" y1="111.70" x2="143.99" y2="114.83" stroke="#e4e8f0" stroke-width="0.6"/><line x1="135.69" y1="115.34" x2="137.70" y2="119.49" stroke="#e4e8f0" stroke-width="0.6"/><line x1="130.21" y1="116.90" x2="130.69" y2="121.49" stroke="#e4e8f0" stroke-width="0.6"/><line x1="124.98" y1="116.61" x2="124.00" y2="121.11" stroke="#e4e8f0" stroke-width="0.6"/><line x1="113.71" y1="107.79" x2="109.57" y2="109.82" stroke="#e4e8f0" stroke-width="0.6"/><line x1="112.24" y1="103.22" x2="107.69" y2="103.98" stroke="#e4e8f0" stroke-width="0.6"/><line x1="114.38" y1="91.98" x2="110.44" y2="89.60" stroke="#e4e8f0" stroke-width="0.6"/><line x1="116.32" y1="89.38" x2="112.92" y2="86.27" stroke="#e4e8f0" stroke-width="0.6"/><line x1="118.47" y1="87.41" x2="115.67" y2="83.75" stroke="#e4e8f0" stroke-width="0.6"/><line x1="120.84" y1="85.90" x2="118.70" y2="81.82" stroke="#e4e8f0" stroke-width="0.6"/><line x1="124.95" y1="84.40" x2="123.96" y2="79.89" stroke="#e4e8f0" stroke-width="0.6"/><line x1="126.66" y1="84.11" x2="126.14" y2="79.53" stroke="#e4e8f0" stroke-width="0.6"/><text x="134.62" y="79.29" font-size="2.3" text-anchor="middle" fill="#333">1</text><text x="144.99" y="85.51" font-size="2.3" text-anchor="middle" fill="#333">2</text><text x="150.41" y="94.93" font-size="2.3" text-anchor="middle" fill="#333">3</text><text x="151.07" y="104.51" font-size="2.3" text-anchor="middle" fill="#333">4</text><text x="147.95" y="113.15" font-size="2.3" text-anchor="middle" fill="#333">5</text><text x="142.07" y="119.57" font-size="2.3" text-anchor="middle" fill="#333">6</text><text x="134.75" y="123.18" font-size="2.3" text-anchor="middle" fill="#333">7</text><text x="127.23" y="124.01" font-size="2.3" text-anchor="middle" fill="#333">8</text><text x="120.27" y="122.51" font-size="2.3" text-anchor="middle" fill="#333">9</text><text x="114.33" y="119.11" font-size="2.3" text-anchor="middle" fill="#333">10</text><text x="109.75" y="114.22" font-size="2.3" text-anchor="middle" fill="#333">11</text><text x="106.80" y="108.24" font-size="2.3" text-anchor="middle" fill="#333">12</text><text x="105.72" y="102.17" font-size="2.3" text-anchor="middle" fill="#333">13</text><text x="106.17" y="96.67" font-size="2.3" text-anchor="middle" fill="#333">14</text><text x="107.79" y="91.72" font-size="2.3" text-anchor="middle" fill="#333">15</text><text x="110.23" y="87.60" font-size="2.3" text-anchor="middle" fill="#333">16</text><text x="113.09" y="84.45" font-size="2.3" text-anchor="middle" fill="#333">17</text><text x="116.23" y="82.04" font-size="2.3" text-anchor="middle" fill="#333">18</text><text x="119.23" y="80.42" font-size="2.3" text-anchor="middle" fill="#333">19</text><text x="122.08" y="79.37" font-size="2.3" text-anchor="middle" fill="#333">20</text><text x="124.77" y="78.76" font-size="2.3" text-anchor="middle" fill="#333">21</text><text x="127.23" y="78.49" font-size="2.3" text-anchor="middle" fill="#333">22</text><path d="M143.53,95.03C137.97,97.05 136.86,106.14 141.76,109.44" fill="none" stroke="#1a1a1a" stroke-width="0.8"/><path d="M127.73,95.58A4.93,4.93 0 1 1 122.37,100.67" fill="none" stroke="#c9bad4" stroke-width="1.7"/><text x="135.03" y="101.47" font-size="2.3" text-anchor="middle" fill="#444">8</text><text x="121.05" y="106.09" font-size="2.3" text-anchor="middle" fill="#444">5</text></g><g><circle cx="128.50" cy="154.20" r="18.80" fill="none" stroke="#c9bad4" stroke-width="4.41"/><path d="M146.96,144.19A21.00,21.00 0 0 1 149.46,152.84L145.06,153.12A16.59,16.59 0 0 0 143.08,146.29Z" fill="#a8002c" stroke="#a8002c" stroke-width="0.6" stroke-linejoin="round"/><path d="M148.21,161.44A21.00,21.00 0 0 1 143.92,168.46L140.68,165.47A16.59,16.59 0 0 0 144.07,159.92Z" fill="#a8002c" stroke="#a8002c" stroke-width="0.6" stroke-linejoin="round"/><path d="M137.66,173.10A21.00,21.00 0 0 1 130.68,175.09L130.22,170.70A16.59,16.59 0 0 0 135.73,169.13Z" fill="#a8002c" stroke="#a8002c" stroke-width="0.6" stroke-linejoin="round"/><path d="M130.68,175.09A21.00,21.00 0 0 1 124.02,174.72L124.96,170.41A16.59,16.59 0 0 0 130.22,170.70Z" fill="#1d3c7c" stroke="#1d3c7c" stroke-width="0.6" stroke-linejoin="round"/><path d="M109.66,163.48A21.00,21.00 0 0 1 107.79,157.67L112.14,156.94A16.59,16.59 0 0 0 113.62,161.53Z" fill="#a8002c" stroke="#a8002c" stroke-width="0.6" stroke-linejoin="round"/><path d="M110.52,143.35A21.00,21.00 0 0 1 115.73,137.53L118.41,141.03A16.59,16.59 0 0 0 114.30,145.63Z" fill="#1d3c7c" stroke="#1d3c7c" stroke-width="0.6" stroke-linejoin="round"/><path d="M115.73,137.53A21.00,21.00 0 0 1 118.74,135.60L120.79,139.51A16.59,16.59 0 0 0 118.41,141.03Z" fill="#a8002c" stroke="#a8002c" stroke-width="0.6" stroke-linejoin="round"/><line x1="143.00" y1="146.34" x2="147.05" y2="144.14" stroke="#e4e8f0" stroke-width="0.6"/><line x1="144.96" y1="153.13" x2="149.56" y2="152.83" stroke="#e4e8f0" stroke-width="0.6"/><line x1="143.98" y1="159.88" x2="148.31" y2="161.47" stroke="#e4e8f0" stroke-width="0.6"/><line x1="140.61" y1="165.40" x2="143.99" y2="168.53" stroke="#e4e8f0" stroke-width="0.6"/><line x1="135.69" y1="169.04" x2="137.70" y2="173.19" stroke="#e4e8f0" stroke-width="0.6"/><line x1="130.21" y1="170.60" x2="130.69" y2="175.19" stroke="#e4e8f0" stroke-width="0.6"/><line x1="124.98" y1="170.31" x2="124.00" y2="174.81" stroke="#e4e8f0" stroke-width="0.6"/><line x1="113.71" y1="161.49" x2="109.57" y2="163.52" stroke="#e4e8f0" stroke-width="0.6"/><line x1="112.24" y1="156.92" x2="107.69" y2="157.68" stroke="#e4e8f0" stroke-width="0.6"/><line x1="114.38" y1="145.68" x2="110.44" y2="143.30" stroke="#e4e8f0" stroke-width="0.6"/><line x1="116.32" y1="143.08" x2="112.92" y2="139.97" stroke="#e4e8f0" stroke-width="0.6"/><line x1="118.47" y1="141.11" x2="115.67" y2="137.45" stroke="#e4e8f0" stroke-width="0.6"/><line x1="120.84" y1="139.60" x2="118.70" y2="135.52" stroke="#e4e8f0" stroke-width="0.6"/><text x="134.62" y="132.99" font-size="2.3" text-anchor="middle" fill="#333">1</text><text x="144.99" y="139.21" font-size="2.3" text-anchor="middle" fill="#333">2</text><text x="150.41" y="148.63" font-size="2.3" text-anchor="middle" fill="#333">3</text><text x="151.07" y="158.21" font-size="2.3" text-anchor="middle" fill="#333">4</text><text x="147.95" y="166.85" font-size="2.3" text-anchor="middle" fill="#333">5</text><text x="142.07" y="173.27" font-size="2.3" text-anchor="middle" fill="#333">6</text><text x="134.75" y="176.88" font-size="2.3" text-anchor="middle" fill="#333">7</text><text x="127.23" y="177.71" font-size="2.3" text-anchor="middle" fill="#333">8</text><text x="120.27" y="176.21" font-size="2.3" text-anchor="middle" fill="#333">9</text><text x="114.33" y="172.81" font-size="2.3" text-anchor="middle" fill="#333">10</text><text x="109.75" y="167.92" font-size="2.3" text-anchor="middle" fill="#333">11</text><text x="106.80" y="161.94" font-size="2.3" text-anchor="middle" fill="#333">12</text><text x="105.72" y="155.87" font-size="2.3" text-anchor="middle" fill="#333">13</text><text x="106.17" y="150.37" font-size="2.3" text-anchor="middle" fill="#333">14</text><text x="107.79" y="145.42" font-size="2.3" text-anchor="middle" fill="#333">15</text><text x="110.23" y="141.30" font-size="2.3" text-anchor="middle" fill="#333">16</text><text x="113.09" y="138.15" font-size="2.3" text-anchor="middle" fill="#333">17</text><text x="116.23" y="135.74" font-size="2.3" text-anchor="middle" fill="#333">18</text><text x="119.23" y="134.12" font-size="2.3" text-anchor="middle" fill="#333">19</text><text x="122.08" y="133.07" font-size="2.3" text-anchor="middle" fill="#333">20</text><text x="124.77" y="132.46" font-size="2.3" text-anchor="middle" fill="#333">21</text><text x="127.23" y="132.19" font-size="2.3" text-anchor="middle" fill="#333">22</text><path d="M143.53,148.73C137.97,150.75 136.86,159.84 141.76,163.14" fill="none" stroke="#1a1a1a" stroke-width="0.8"/><path d="M127.79,144.76A9.45,9.45 0 0 1 136.24,151.12" fill="none" stroke="#c9bad4" stroke-width="1.6"/><path d="M127.73,149.28A4.93,4.93 0 1 1 122.37,154.37" fill="none" stroke="#c9bad4" stroke-width="1.7"/><text x="135.03" y="155.17" font-size="2.3" text-anchor="middle" fill="#444">8</text><text x="121.05" y="159.79" font-size="2.3" text-anchor="middle" fill="#444">5</text></g><g><circle cx="244.00" cy="100.30" r="19.15" fill="none" stroke="#c9bad4" stroke-width="4.49"/><path d="M264.09,107.68A21.40,21.40 0 0 1 259.71,114.83L256.41,111.78A16.91,16.91 0 0 0 259.87,106.13Z" fill="#a8002c" stroke="#a8002c" stroke-width="0.6" stroke-linejoin="round"/><path d="M253.33,119.56A21.40,21.40 0 0 1 246.22,121.58L245.76,117.11A16.91,16.91 0 0 0 251.37,115.51Z" fill="#a8002c" stroke="#a8002c" stroke-width="0.6" stroke-linejoin="round"/><path d="M246.22,121.58A21.40,21.40 0 0 1 233.31,118.84L235.55,114.95A16.91,16.91 0 0 0 245.76,117.11Z" fill="#1d3c7c" stroke="#1d3c7c" stroke-width="0.6" stroke-linejoin="round"/><path d="M228.37,114.92A21.40,21.40 0 0 1 222.89,103.83L227.33,103.09A16.91,16.91 0 0 0 231.65,111.85Z" fill="#1d3c7c" stroke="#1d3c7c" stroke-width="0.6" stroke-linejoin="round"/><path d="M222.89,103.83A21.40,21.40 0 0 1 222.68,98.47L227.16,98.86A16.91,16.91 0 0 0 227.33,103.09Z" fill="#a8002c" stroke="#a8002c" stroke-width="0.6" stroke-linejoin="round"/><path d="M225.68,89.24A21.40,21.40 0 0 1 228.20,85.87L231.52,88.90A16.91,16.91 0 0 0 229.53,91.56Z" fill="#a8002c" stroke="#a8002c" stroke-width="0.6" stroke-linejoin="round"/><path d="M230.99,83.31A21.40,21.40 0 0 1 234.06,81.35L236.14,85.33A16.91,16.91 0 0 0 233.72,86.88Z" fill="#1d3c7c" stroke="#1d3c7c" stroke-width="0.6" stroke-linejoin="round"/><path d="M236.58,80.23A21.40,21.40 0 0 1 244.00,78.90L244.00,83.39A16.91,16.91 0 0 0 238.13,84.44Z" fill="#1d3c7c" stroke="#1d3c7c" stroke-width="0.6" stroke-linejoin="round"/><line x1="244.00" y1="83.49" x2="244.00" y2="78.80" stroke="#e4e8f0" stroke-width="0.6"/><line x1="259.78" y1="106.09" x2="264.18" y2="107.71" stroke="#e4e8f0" stroke-width="0.6"/><line x1="256.34" y1="111.71" x2="259.78" y2="114.90" stroke="#e4e8f0" stroke-width="0.6"/><line x1="251.33" y1="115.42" x2="253.37" y2="119.65" stroke="#e4e8f0" stroke-width="0.6"/><line x1="245.75" y1="117.02" x2="246.23" y2="121.68" stroke="#e4e8f0" stroke-width="0.6"/><line x1="240.41" y1="116.72" x2="239.41" y2="121.30" stroke="#e4e8f0" stroke-width="0.6"/><line x1="235.60" y1="114.86" x2="233.26" y2="118.92" stroke="#e4e8f0" stroke-width="0.6"/><line x1="231.73" y1="111.78" x2="228.30" y2="114.99" stroke="#e4e8f0" stroke-width="0.6"/><line x1="228.92" y1="107.73" x2="224.71" y2="109.80" stroke="#e4e8f0" stroke-width="0.6"/><line x1="227.42" y1="103.07" x2="222.79" y2="103.85" stroke="#e4e8f0" stroke-width="0.6"/><line x1="227.26" y1="98.87" x2="222.58" y2="98.47" stroke="#e4e8f0" stroke-width="0.6"/><line x1="229.61" y1="91.61" x2="225.59" y2="89.19" stroke="#e4e8f0" stroke-width="0.6"/><line x1="231.59" y1="88.97" x2="228.13" y2="85.80" stroke="#e4e8f0" stroke-width="0.6"/><line x1="233.78" y1="86.96" x2="230.93" y2="83.23" stroke="#e4e8f0" stroke-width="0.6"/><line x1="236.19" y1="85.42" x2="234.01" y2="81.26" stroke="#e4e8f0" stroke-width="0.6"/><line x1="238.17" y1="84.54" x2="236.54" y2="80.14" stroke="#e4e8f0" stroke-width="0.6"/><line x1="240.38" y1="83.89" x2="239.37" y2="79.30" stroke="#e4e8f0" stroke-width="0.6"/><line x1="242.12" y1="83.60" x2="241.60" y2="78.93" stroke="#e4e8f0" stroke-width="0.6"/><text x="250.23" y="78.70" font-size="2.3" text-anchor="middle" fill="#333">1</text><text x="260.78" y="85.03" font-size="2.3" text-anchor="middle" fill="#333">2</text><text x="266.29" y="94.62" font-size="2.3" text-anchor="middle" fill="#333">3</text><text x="266.96" y="104.37" font-size="2.3" text-anchor="middle" fill="#333">4</text><text x="263.79" y="113.16" font-size="2.3" text-anchor="middle" fill="#333">5</text><text x="257.81" y="119.69" font-size="2.3" text-anchor="middle" fill="#333">6</text><text x="250.36" y="123.36" font-size="2.3" text-anchor="middle" fill="#333">7</text><text x="242.71" y="124.21" font-size="2.3" text-anchor="middle" fill="#333">8</text><text x="235.63" y="122.69" font-size="2.3" text-anchor="middle" fill="#333">9</text><text x="229.58" y="119.22" font-size="2.3" text-anchor="middle" fill="#333">10</text><text x="224.92" y="114.24" font-size="2.3" text-anchor="middle" fill="#333">11</text><text x="221.92" y="108.17" font-size="2.3" text-anchor="middle" fill="#333">12</text><text x="220.82" y="101.98" font-size="2.3" text-anchor="middle" fill="#333">13</text><text x="221.27" y="96.39" font-size="2.3" text-anchor="middle" fill="#333">14</text><text x="222.92" y="91.35" font-size="2.3" text-anchor="middle" fill="#333">15</text><text x="225.41" y="87.16" font-size="2.3" text-anchor="middle" fill="#333">16</text><text x="228.32" y="83.95" font-size="2.3" text-anchor="middle" fill="#333">17</text><text x="231.51" y="81.50" font-size="2.3" text-anchor="middle" fill="#333">18</text><text x="234.57" y="79.85" font-size="2.3" text-anchor="middle" fill="#333">19</text><text x="237.46" y="78.79" font-size="2.3" text-anchor="middle" fill="#333">20</text><text x="240.20" y="78.16" font-size="2.3" text-anchor="middle" fill="#333">21</text><text x="242.70" y="77.89" font-size="2.3" text-anchor="middle" fill="#333">22</text><path d="M243.67,90.34A10.00,10.00 0 0 1 252.31,97.21" fill="none" stroke="#c9bad4" stroke-width="1.5"/><path d="M242.80,94.30A6.00,6.00 0 0 1 242.80,106.30" fill="none" stroke="#1d3c7c" stroke-width="2.8"/><path d="M242.80,107.10A6.80,6.80 0 0 1 236.00,100.06" fill="none" stroke="#c9bad4" stroke-width="1.6"/></g><g><circle cx="304.00" cy="100.30" r="19.15" fill="none" stroke="#c9bad4" stroke-width="4.49"/><path d="M304.00,78.90A21.40,21.40 0 0 1 315.07,81.98L312.74,85.83A16.91,16.91 0 0 0 304.00,83.39Z" fill="#1d3c7c" stroke="#1d3c7c" stroke-width="0.6" stroke-linejoin="round"/><path d="M324.09,107.68A21.40,21.40 0 0 1 319.71,114.83L316.41,111.78A16.91,16.91 0 0 0 319.87,106.13Z" fill="#1d3c7c" stroke="#1d3c7c" stroke-width="0.6" stroke-linejoin="round"/><path d="M313.33,119.56A21.40,21.40 0 0 1 299.43,121.21L300.39,116.82A16.91,16.91 0 0 0 311.37,115.51Z" fill="#1d3c7c" stroke="#1d3c7c" stroke-width="0.6" stroke-linejoin="round"/><path d="M299.43,121.21A21.40,21.40 0 0 1 293.31,118.84L295.55,114.95A16.91,16.91 0 0 0 300.39,116.82Z" fill="#5ea236" stroke="#5ea236" stroke-width="0.6" stroke-linejoin="round"/><path d="M282.68,98.47A21.40,21.40 0 0 1 283.68,93.58L287.95,94.99A16.91,16.91 0 0 0 287.16,98.86Z" fill="#1d3c7c" stroke="#1d3c7c" stroke-width="0.6" stroke-linejoin="round"/><path d="M290.99,83.31A21.40,21.40 0 0 1 294.06,81.35L296.14,85.33A16.91,16.91 0 0 0 293.72,86.88Z" fill="#1d3c7c" stroke="#1d3c7c" stroke-width="0.6" stroke-linejoin="round"/><path d="M299.40,79.40A21.40,21.40 0 0 1 304.00,78.90L304.00,83.39A16.91,16.91 0 0 0 300.36,83.79Z" fill="#1d3c7c" stroke="#1d3c7c" stroke-width="0.6" stroke-linejoin="round"/><line x1="304.00" y1="83.49" x2="304.00" y2="78.80" stroke="#e4e8f0" stroke-width="0.6"/><line x1="312.69" y1="85.92" x2="315.12" y2="81.90" stroke="#e4e8f0" stroke-width="0.6"/><line x1="319.78" y1="106.09" x2="324.18" y2="107.71" stroke="#e4e8f0" stroke-width="0.6"/><line x1="316.34" y1="111.71" x2="319.78" y2="114.90" stroke="#e4e8f0" stroke-width="0.6"/><line x1="311.33" y1="115.42" x2="313.37" y2="119.65" stroke="#e4e8f0" stroke-width="0.6"/><line x1="305.75" y1="117.02" x2="306.23" y2="121.68" stroke="#e4e8f0" stroke-width="0.6"/><line x1="300.41" y1="116.72" x2="299.41" y2="121.30" stroke="#e4e8f0" stroke-width="0.6"/><line x1="295.60" y1="114.86" x2="293.26" y2="118.92" stroke="#e4e8f0" stroke-width="0.6"/><line x1="287.26" y1="98.87" x2="282.58" y2="98.47" stroke="#e4e8f0" stroke-width="0.6"/><line x1="288.04" y1="95.02" x2="283.59" y2="93.55" stroke="#e4e8f0" stroke-width="0.6"/><line x1="293.78" y1="86.96" x2="290.93" y2="83.23" stroke="#e4e8f0" stroke-width="0.6"/><line x1="296.19" y1="85.42" x2="294.01" y2="81.26" stroke="#e4e8f0" stroke-width="0.6"/><line x1="300.38" y1="83.89" x2="299.37" y2="79.30" stroke="#e4e8f0" stroke-width="0.6"/><line x1="302.12" y1="83.60" x2="301.60" y2="78.93" stroke="#e4e8f0" stroke-width="0.6"/><text x="310.23" y="78.70" font-size="2.3" text-anchor="middle" fill="#333">1</text><text x="320.78" y="85.03" font-size="2.3" text-anchor="middle" fill="#333">2</text><text x="326.29" y="94.62" font-size="2.3" text-anchor="middle" fill="#333">3</text><text x="326.96" y="104.37" font-size="2.3" text-anchor="middle" fill="#333">4</text><text x="323.79" y="113.16" font-size="2.3" text-anchor="middle" fill="#333">5</text><text x="317.81" y="119.69" font-size="2.3" text-anchor="middle" fill="#333">6</text><text x="310.36" y="123.36" font-size="2.3" text-anchor="middle" fill="#333">7</text><text x="302.71" y="124.21" font-size="2.3" text-anchor="middle" fill="#333">8</text><text x="295.63" y="122.69" font-size="2.3" text-anchor="middle" fill="#333">9</text><text x="289.58" y="119.22" font-size="2.3" text-anchor="middle" fill="#333">10</text><text x="284.92" y="114.24" font-size="2.3" text-anchor="middle" fill="#333">11</text><text x="281.92" y="108.17" font-size="2.3" text-anchor="middle" fill="#333">12</text><text x="280.82" y="101.98" font-size="2.3" text-anchor="middle" fill="#333">13</text><text x="281.27" y="96.39" font-size="2.3" text-anchor="middle" fill="#333">14</text><text x="282.92" y="91.35" font-size="2.3" text-anchor="middle" fill="#333">15</text><text x="285.41" y="87.16" font-size="2.3" text-anchor="middle" fill="#333">16</text><text x="288.32" y="83.95" font-size="2.3" text-anchor="middle" fill="#333">17</text><text x="291.51" y="81.50" font-size="2.3" text-anchor="middle" fill="#333">18</text><text x="294.57" y="79.85" font-size="2.3" text-anchor="middle" fill="#333">19</text><text x="297.46" y="78.79" font-size="2.3" text-anchor="middle" fill="#333">20</text><text x="300.20" y="78.16" font-size="2.3" text-anchor="middle" fill="#333">21</text><text x="302.70" y="77.89" font-size="2.3" text-anchor="middle" fill="#333">22</text><path d="M308.77,115.89C306.94,109.92 300.40,109.69 298.16,115.52" fill="none" stroke="#1a1a1a" stroke-width="0.8"/><path d="M303.67,90.34A10.00,10.00 0 0 1 312.31,97.21" fill="none" stroke="#c9bad4" stroke-width="1.5"/><path d="M302.80,94.50A5.80,5.80 0 0 1 302.80,106.10" fill="none" stroke="#c9bad4" stroke-width="2.0"/><path d="M302.80,106.60A6.30,6.30 0 0 1 296.50,100.08" fill="none" stroke="#a8002c" stroke-width="2.8"/></g><g><circle cx="244.30" cy="154.20" r="19.06" fill="none" stroke="#c9bad4" stroke-width="4.47"/><path d="M264.29,161.54A21.30,21.30 0 0 1 259.94,168.66L256.65,165.63A16.83,16.83 0 0 0 260.10,160.00Z" fill="#a8002c" stroke="#a8002c" stroke-width="0.6" stroke-linejoin="round"/><path d="M253.59,173.37A21.30,21.30 0 0 1 246.51,175.38L246.05,170.94A16.83,16.83 0 0 0 251.64,169.34Z" fill="#a8002c" stroke="#a8002c" stroke-width="0.6" stroke-linejoin="round"/><line x1="260.00" y1="159.97" x2="264.39" y2="161.58" stroke="#e4e8f0" stroke-width="0.6"/><line x1="256.58" y1="165.56" x2="260.01" y2="168.73" stroke="#e4e8f0" stroke-width="0.6"/><line x1="251.59" y1="169.25" x2="253.63" y2="173.46" stroke="#e4e8f0" stroke-width="0.6"/><line x1="246.04" y1="170.84" x2="246.52" y2="175.48" stroke="#e4e8f0" stroke-width="0.6"/><text x="250.50" y="132.70" font-size="2.3" text-anchor="middle" fill="#333">1</text><text x="261.01" y="139.00" font-size="2.3" text-anchor="middle" fill="#333">2</text><text x="266.49" y="148.55" font-size="2.3" text-anchor="middle" fill="#333">3</text><text x="267.16" y="158.25" font-size="2.3" text-anchor="middle" fill="#333">4</text><text x="264.00" y="167.01" font-size="2.3" text-anchor="middle" fill="#333">5</text><text x="258.05" y="173.51" font-size="2.3" text-anchor="middle" fill="#333">6</text><text x="250.63" y="177.17" font-size="2.3" text-anchor="middle" fill="#333">7</text><text x="243.02" y="178.01" font-size="2.3" text-anchor="middle" fill="#333">8</text><text x="235.97" y="176.49" font-size="2.3" text-anchor="middle" fill="#333">9</text><text x="229.94" y="173.04" font-size="2.3" text-anchor="middle" fill="#333">10</text><text x="225.30" y="168.09" font-size="2.3" text-anchor="middle" fill="#333">11</text><text x="222.31" y="162.03" font-size="2.3" text-anchor="middle" fill="#333">12</text><text x="221.22" y="155.88" font-size="2.3" text-anchor="middle" fill="#333">13</text><text x="221.67" y="150.31" font-size="2.3" text-anchor="middle" fill="#333">14</text><text x="223.32" y="145.29" font-size="2.3" text-anchor="middle" fill="#333">15</text><text x="225.79" y="141.12" font-size="2.3" text-anchor="middle" fill="#333">16</text><text x="228.69" y="137.92" font-size="2.3" text-anchor="middle" fill="#333">17</text><text x="231.87" y="135.48" font-size="2.3" text-anchor="middle" fill="#333">18</text><text x="234.91" y="133.85" font-size="2.3" text-anchor="middle" fill="#333">19</text><text x="237.79" y="132.79" font-size="2.3" text-anchor="middle" fill="#333">20</text><text x="240.52" y="132.16" font-size="2.3" text-anchor="middle" fill="#333">21</text><text x="243.01" y="131.89" font-size="2.3" text-anchor="middle" fill="#333">22</text><path d="M243.60,144.63A9.59,9.59 0 0 1 252.16,151.08" fill="none" stroke="#c9bad4" stroke-width="1.6"/><path d="M243.54,149.21A5.01,5.01 0 1 1 238.10,154.37" fill="none" stroke="#c9bad4" stroke-width="1.7"/><text x="250.90" y="155.17" font-size="2.3" text-anchor="middle" fill="#444">8</text><text x="236.79" y="159.83" font-size="2.3" text-anchor="middle" fill="#444">5</text></g><g><circle cx="244.00" cy="207.70" r="18.97" fill="none" stroke="#c9bad4" stroke-width="4.45"/><path d="M263.90,215.01A21.20,21.20 0 0 1 246.20,228.79L245.74,224.36A16.75,16.75 0 0 0 259.72,213.47Z" fill="#a8002c" stroke="#a8002c" stroke-width="0.6" stroke-linejoin="round"/><path d="M223.09,211.20A21.20,21.20 0 0 1 222.88,205.89L227.31,206.27A16.75,16.75 0 0 0 227.48,210.46Z" fill="#a8002c" stroke="#a8002c" stroke-width="0.6" stroke-linejoin="round"/><line x1="259.63" y1="213.44" x2="263.99" y2="215.04" stroke="#e4e8f0" stroke-width="0.6"/><line x1="256.22" y1="219.00" x2="259.64" y2="222.16" stroke="#e4e8f0" stroke-width="0.6"/><line x1="251.26" y1="222.68" x2="253.29" y2="226.87" stroke="#e4e8f0" stroke-width="0.6"/><line x1="245.73" y1="224.26" x2="246.21" y2="228.88" stroke="#e4e8f0" stroke-width="0.6"/><line x1="227.58" y1="210.45" x2="222.99" y2="211.21" stroke="#e4e8f0" stroke-width="0.6"/><line x1="227.41" y1="206.28" x2="222.78" y2="205.88" stroke="#e4e8f0" stroke-width="0.6"/><text x="250.17" y="186.29" font-size="2.3" text-anchor="middle" fill="#333">1</text><text x="260.64" y="192.57" font-size="2.3" text-anchor="middle" fill="#333">2</text><text x="266.10" y="202.07" font-size="2.3" text-anchor="middle" fill="#333">3</text><text x="266.76" y="211.74" font-size="2.3" text-anchor="middle" fill="#333">4</text><text x="263.62" y="220.46" font-size="2.3" text-anchor="middle" fill="#333">5</text><text x="257.69" y="226.93" font-size="2.3" text-anchor="middle" fill="#333">6</text><text x="250.30" y="230.57" font-size="2.3" text-anchor="middle" fill="#333">7</text><text x="242.72" y="231.41" font-size="2.3" text-anchor="middle" fill="#333">8</text><text x="235.70" y="229.90" font-size="2.3" text-anchor="middle" fill="#333">9</text><text x="229.70" y="226.47" font-size="2.3" text-anchor="middle" fill="#333">10</text><text x="225.08" y="221.53" font-size="2.3" text-anchor="middle" fill="#333">11</text><text x="222.11" y="215.50" font-size="2.3" text-anchor="middle" fill="#333">12</text><text x="221.02" y="209.37" font-size="2.3" text-anchor="middle" fill="#333">13</text><text x="221.47" y="203.83" font-size="2.3" text-anchor="middle" fill="#333">14</text><text x="223.11" y="198.83" font-size="2.3" text-anchor="middle" fill="#333">15</text><text x="225.57" y="194.68" font-size="2.3" text-anchor="middle" fill="#333">16</text><text x="228.46" y="191.50" font-size="2.3" text-anchor="middle" fill="#333">17</text><text x="231.62" y="189.07" font-size="2.3" text-anchor="middle" fill="#333">18</text><text x="234.65" y="187.44" font-size="2.3" text-anchor="middle" fill="#333">19</text><text x="237.52" y="186.38" font-size="2.3" text-anchor="middle" fill="#333">20</text><text x="240.24" y="185.76" font-size="2.3" text-anchor="middle" fill="#333">21</text><text x="242.71" y="185.49" font-size="2.3" text-anchor="middle" fill="#333">22</text><path d="M243.30,198.17A9.54,9.54 0 0 1 251.82,204.59" fill="none" stroke="#c9bad4" stroke-width="1.6"/><path d="M243.23,202.74A4.98,4.98 0 1 1 237.82,207.87" fill="none" stroke="#c9bad4" stroke-width="1.7"/><text x="250.58" y="208.67" font-size="2.3" text-anchor="middle" fill="#444">8</text><text x="236.51" y="213.31" font-size="2.3" text-anchor="middle" fill="#444">5</text></g><g><circle cx="420.60" cy="100.30" r="20.23" fill="none" stroke="#c9bad4" stroke-width="4.75"/><path d="M441.81,108.09A22.60,22.60 0 0 1 437.19,115.65L433.71,112.42A17.85,17.85 0 0 0 437.36,106.45Z" fill="#5ea236" stroke="#5ea236" stroke-width="0.6" stroke-linejoin="round"/><path d="M430.45,120.64A22.60,22.60 0 0 1 422.95,122.78L422.45,118.06A17.85,17.85 0 0 0 428.38,116.37Z" fill="#a8002c" stroke="#a8002c" stroke-width="0.6" stroke-linejoin="round"/><path d="M422.95,122.78A22.60,22.60 0 0 1 415.78,122.38L416.79,117.74A17.85,17.85 0 0 0 422.45,118.06Z" fill="#1d3c7c" stroke="#1d3c7c" stroke-width="0.6" stroke-linejoin="round"/><path d="M415.78,122.38A22.60,22.60 0 0 1 409.31,119.88L411.68,115.77A17.85,17.85 0 0 0 416.79,117.74Z" fill="#a8002c" stroke="#a8002c" stroke-width="0.6" stroke-linejoin="round"/><path d="M398.31,104.03A22.60,22.60 0 0 1 399.14,93.20L403.65,94.69A17.85,17.85 0 0 0 402.99,103.25Z" fill="#a8002c" stroke="#a8002c" stroke-width="0.6" stroke-linejoin="round"/><path d="M401.25,88.62A22.60,22.60 0 0 1 403.91,85.06L407.42,88.26A17.85,17.85 0 0 0 405.32,91.07Z" fill="#a8002c" stroke="#a8002c" stroke-width="0.6" stroke-linejoin="round"/><path d="M403.91,85.06A22.60,22.60 0 0 1 406.86,82.36L409.74,86.13A17.85,17.85 0 0 0 407.42,88.26Z" fill="#5ea236" stroke="#5ea236" stroke-width="0.6" stroke-linejoin="round"/><path d="M412.76,79.10A22.60,22.60 0 0 1 415.74,78.23L416.76,82.86A17.85,17.85 0 0 0 414.41,83.55Z" fill="#a8002c" stroke="#a8002c" stroke-width="0.6" stroke-linejoin="round"/><path d="M418.08,77.84A22.60,22.60 0 0 1 420.60,77.70L420.60,82.45A17.85,17.85 0 0 0 418.61,82.56Z" fill="#1d3c7c" stroke="#1d3c7c" stroke-width="0.6" stroke-linejoin="round"/><line x1="420.60" y1="82.55" x2="420.60" y2="77.60" stroke="#e4e8f0" stroke-width="0.6"/><line x1="437.27" y1="106.42" x2="441.91" y2="108.12" stroke="#e4e8f0" stroke-width="0.6"/><line x1="433.63" y1="112.36" x2="437.26" y2="115.71" stroke="#e4e8f0" stroke-width="0.6"/><line x1="428.34" y1="116.28" x2="430.50" y2="120.73" stroke="#e4e8f0" stroke-width="0.6"/><line x1="422.44" y1="117.96" x2="422.96" y2="122.88" stroke="#e4e8f0" stroke-width="0.6"/><line x1="416.81" y1="117.64" x2="415.75" y2="122.48" stroke="#e4e8f0" stroke-width="0.6"/><line x1="411.73" y1="115.68" x2="409.26" y2="119.96" stroke="#e4e8f0" stroke-width="0.6"/><line x1="403.09" y1="103.23" x2="398.21" y2="104.05" stroke="#e4e8f0" stroke-width="0.6"/><line x1="402.91" y1="98.79" x2="397.98" y2="98.36" stroke="#e4e8f0" stroke-width="0.6"/><line x1="403.74" y1="94.72" x2="399.05" y2="93.17" stroke="#e4e8f0" stroke-width="0.6"/><line x1="405.40" y1="91.12" x2="401.17" y2="88.57" stroke="#e4e8f0" stroke-width="0.6"/><line x1="407.49" y1="88.33" x2="403.84" y2="84.99" stroke="#e4e8f0" stroke-width="0.6"/><line x1="409.81" y1="86.20" x2="406.80" y2="82.28" stroke="#e4e8f0" stroke-width="0.6"/><line x1="414.44" y1="83.65" x2="412.72" y2="79.01" stroke="#e4e8f0" stroke-width="0.6"/><line x1="416.78" y1="82.96" x2="415.72" y2="78.13" stroke="#e4e8f0" stroke-width="0.6"/><line x1="418.62" y1="82.66" x2="418.07" y2="77.74" stroke="#e4e8f0" stroke-width="0.6"/><text x="427.15" y="77.55" font-size="2.3" text-anchor="middle" fill="#333">1</text><text x="438.25" y="84.20" font-size="2.3" text-anchor="middle" fill="#333">2</text><text x="444.04" y="94.29" font-size="2.3" text-anchor="middle" fill="#333">3</text><text x="444.75" y="104.54" font-size="2.3" text-anchor="middle" fill="#333">4</text><text x="441.41" y="113.79" font-size="2.3" text-anchor="middle" fill="#333">5</text><text x="435.13" y="120.65" font-size="2.3" text-anchor="middle" fill="#333">6</text><text x="427.29" y="124.52" font-size="2.3" text-anchor="middle" fill="#333">7</text><text x="419.25" y="125.41" font-size="2.3" text-anchor="middle" fill="#333">8</text><text x="411.80" y="123.81" font-size="2.3" text-anchor="middle" fill="#333">9</text><text x="405.43" y="120.16" font-size="2.3" text-anchor="middle" fill="#333">10</text><text x="400.53" y="114.93" font-size="2.3" text-anchor="middle" fill="#333">11</text><text x="397.38" y="108.53" font-size="2.3" text-anchor="middle" fill="#333">12</text><text x="396.22" y="102.03" font-size="2.3" text-anchor="middle" fill="#333">13</text><text x="396.70" y="96.14" font-size="2.3" text-anchor="middle" fill="#333">14</text><text x="398.43" y="90.85" font-size="2.3" text-anchor="middle" fill="#333">15</text><text x="401.05" y="86.45" font-size="2.3" text-anchor="middle" fill="#333">16</text><text x="404.11" y="83.07" font-size="2.3" text-anchor="middle" fill="#333">17</text><text x="407.47" y="80.49" font-size="2.3" text-anchor="middle" fill="#333">18</text><text x="410.68" y="78.76" font-size="2.3" text-anchor="middle" fill="#333">19</text><text x="413.73" y="77.64" font-size="2.3" text-anchor="middle" fill="#333">20</text><text x="416.61" y="76.98" font-size="2.3" text-anchor="middle" fill="#333">21</text><text x="419.24" y="76.69" font-size="2.3" text-anchor="middle" fill="#333">22</text><path d="M420.93,90.14A10.17,10.17 0 0 1 430.02,96.99" fill="none" stroke="#c9bad4" stroke-width="1.6"/><circle cx="420.40" cy="100.30" r="5.65" fill="none" stroke="#c9bad4" stroke-width="1.6"/><text x="428.65" y="101.00" font-size="2.3" text-anchor="middle" fill="#444">8</text><text x="411.85" y="101.00" font-size="2.3" text-anchor="middle" fill="#444">20</text></g><g><circle cx="482.80" cy="100.40" r="20.23" fill="none" stroke="#c9bad4" stroke-width="4.75"/><path d="M494.49,81.06A22.60,22.60 0 0 1 502.67,89.63L498.50,91.89A17.85,17.85 0 0 0 492.03,85.12Z" fill="#1d3c7c" stroke="#1d3c7c" stroke-width="0.6" stroke-linejoin="round"/><path d="M502.67,89.63A22.60,22.60 0 0 1 505.35,98.93L500.62,99.24A17.85,17.85 0 0 0 498.50,91.89Z" fill="#a8002c" stroke="#a8002c" stroke-width="0.6" stroke-linejoin="round"/><path d="M504.01,108.19A22.60,22.60 0 0 1 499.39,115.75L495.91,112.52A17.85,17.85 0 0 0 499.56,106.55Z" fill="#5ea236" stroke="#5ea236" stroke-width="0.6" stroke-linejoin="round"/><path d="M492.65,120.74A22.60,22.60 0 0 1 485.15,122.88L484.65,118.16A17.85,17.85 0 0 0 490.58,116.47Z" fill="#a8002c" stroke="#a8002c" stroke-width="0.6" stroke-linejoin="round"/><path d="M485.15,122.88A22.60,22.60 0 0 1 477.98,122.48L478.99,117.84A17.85,17.85 0 0 0 484.65,118.16Z" fill="#1d3c7c" stroke="#1d3c7c" stroke-width="0.6" stroke-linejoin="round"/><path d="M477.98,122.48A22.60,22.60 0 0 1 471.51,119.98L473.88,115.87A17.85,17.85 0 0 0 478.99,117.84Z" fill="#a8002c" stroke="#a8002c" stroke-width="0.6" stroke-linejoin="round"/><path d="M466.30,115.84A22.60,22.60 0 0 1 462.53,110.39L466.78,108.29A17.85,17.85 0 0 0 469.76,112.60Z" fill="#1d3c7c" stroke="#1d3c7c" stroke-width="0.6" stroke-linejoin="round"/><path d="M460.51,104.13A22.60,22.60 0 0 1 461.34,93.30L465.85,94.79A17.85,17.85 0 0 0 465.19,103.35Z" fill="#a8002c" stroke="#a8002c" stroke-width="0.6" stroke-linejoin="round"/><path d="M463.45,88.72A22.60,22.60 0 0 1 469.06,82.46L471.94,86.23A17.85,17.85 0 0 0 467.52,91.17Z" fill="#a8002c" stroke="#a8002c" stroke-width="0.6" stroke-linejoin="round"/><path d="M474.96,79.20A22.60,22.60 0 0 1 477.94,78.33L478.96,82.96A17.85,17.85 0 0 0 476.61,83.65Z" fill="#a8002c" stroke="#a8002c" stroke-width="0.6" stroke-linejoin="round"/><path d="M480.28,77.94A22.60,22.60 0 0 1 482.80,77.80L482.80,82.55A17.85,17.85 0 0 0 480.81,82.66Z" fill="#1d3c7c" stroke="#1d3c7c" stroke-width="0.6" stroke-linejoin="round"/><line x1="482.80" y1="82.65" x2="482.80" y2="77.70" stroke="#e4e8f0" stroke-width="0.6"/><line x1="491.98" y1="85.21" x2="494.54" y2="80.97" stroke="#e4e8f0" stroke-width="0.6"/><line x1="498.41" y1="91.94" x2="502.76" y2="89.58" stroke="#e4e8f0" stroke-width="0.6"/><line x1="500.52" y1="99.25" x2="505.45" y2="98.93" stroke="#e4e8f0" stroke-width="0.6"/><line x1="499.47" y1="106.52" x2="504.11" y2="108.22" stroke="#e4e8f0" stroke-width="0.6"/><line x1="495.83" y1="112.46" x2="499.46" y2="115.81" stroke="#e4e8f0" stroke-width="0.6"/><line x1="490.54" y1="116.38" x2="492.70" y2="120.83" stroke="#e4e8f0" stroke-width="0.6"/><line x1="484.64" y1="118.06" x2="485.16" y2="122.98" stroke="#e4e8f0" stroke-width="0.6"/><line x1="479.01" y1="117.74" x2="477.95" y2="122.58" stroke="#e4e8f0" stroke-width="0.6"/><line x1="473.93" y1="115.78" x2="471.46" y2="120.06" stroke="#e4e8f0" stroke-width="0.6"/><line x1="469.84" y1="112.53" x2="466.22" y2="115.91" stroke="#e4e8f0" stroke-width="0.6"/><line x1="466.87" y1="108.25" x2="462.44" y2="110.43" stroke="#e4e8f0" stroke-width="0.6"/><line x1="465.29" y1="103.33" x2="460.41" y2="104.15" stroke="#e4e8f0" stroke-width="0.6"/><line x1="465.11" y1="98.89" x2="460.18" y2="98.46" stroke="#e4e8f0" stroke-width="0.6"/><line x1="465.94" y1="94.82" x2="461.25" y2="93.27" stroke="#e4e8f0" stroke-width="0.6"/><line x1="467.60" y1="91.22" x2="463.37" y2="88.67" stroke="#e4e8f0" stroke-width="0.6"/><line x1="469.69" y1="88.43" x2="466.04" y2="85.09" stroke="#e4e8f0" stroke-width="0.6"/><line x1="472.01" y1="86.30" x2="469.00" y2="82.38" stroke="#e4e8f0" stroke-width="0.6"/><line x1="476.64" y1="83.75" x2="474.92" y2="79.11" stroke="#e4e8f0" stroke-width="0.6"/><line x1="478.98" y1="83.06" x2="477.92" y2="78.23" stroke="#e4e8f0" stroke-width="0.6"/><line x1="480.82" y1="82.76" x2="480.27" y2="77.84" stroke="#e4e8f0" stroke-width="0.6"/><text x="489.35" y="77.65" font-size="2.3" text-anchor="middle" fill="#333">1</text><text x="500.45" y="84.30" font-size="2.3" text-anchor="middle" fill="#333">2</text><text x="506.24" y="94.39" font-size="2.3" text-anchor="middle" fill="#333">3</text><text x="506.95" y="104.64" font-size="2.3" text-anchor="middle" fill="#333">4</text><text x="503.61" y="113.89" font-size="2.3" text-anchor="middle" fill="#333">5</text><text x="497.33" y="120.75" font-size="2.3" text-anchor="middle" fill="#333">6</text><text x="489.49" y="124.62" font-size="2.3" text-anchor="middle" fill="#333">7</text><text x="481.45" y="125.51" font-size="2.3" text-anchor="middle" fill="#333">8</text><text x="474.00" y="123.91" font-size="2.3" text-anchor="middle" fill="#333">9</text><text x="467.63" y="120.26" font-size="2.3" text-anchor="middle" fill="#333">10</text><text x="462.73" y="115.03" font-size="2.3" text-anchor="middle" fill="#333">11</text><text x="459.58" y="108.63" font-size="2.3" text-anchor="middle" fill="#333">12</text><text x="458.42" y="102.13" font-size="2.3" text-anchor="middle" fill="#333">13</text><text x="458.90" y="96.24" font-size="2.3" text-anchor="middle" fill="#333">14</text><text x="460.63" y="90.95" font-size="2.3" text-anchor="middle" fill="#333">15</text><text x="463.25" y="86.55" font-size="2.3" text-anchor="middle" fill="#333">16</text><text x="466.31" y="83.17" font-size="2.3" text-anchor="middle" fill="#333">17</text><text x="469.67" y="80.59" font-size="2.3" text-anchor="middle" fill="#333">18</text><text x="472.88" y="78.86" font-size="2.3" text-anchor="middle" fill="#333">19</text><text x="475.93" y="77.74" font-size="2.3" text-anchor="middle" fill="#333">20</text><text x="478.81" y="77.08" font-size="2.3" text-anchor="middle" fill="#333">21</text><text x="481.44" y="76.79" font-size="2.3" text-anchor="middle" fill="#333">22</text><path d="M483.13,90.24A10.17,10.17 0 0 1 492.22,97.09" fill="none" stroke="#c9bad4" stroke-width="1.6"/><circle cx="482.60" cy="100.40" r="5.65" fill="none" stroke="#c9bad4" stroke-width="1.6"/><text x="490.85" y="101.10" font-size="2.3" text-anchor="middle" fill="#444">8</text><text x="474.05" y="101.10" font-size="2.3" text-anchor="middle" fill="#444">20</text></g><g><circle cx="420.60" cy="154.30" r="20.23" fill="none" stroke="#c9bad4" stroke-width="4.75"/><path d="M441.81,162.09A22.60,22.60 0 0 1 437.19,169.65L433.71,166.42A17.85,17.85 0 0 0 437.36,160.45Z" fill="#5ea236" stroke="#5ea236" stroke-width="0.6" stroke-linejoin="round"/><path d="M430.45,174.64A22.60,22.60 0 0 1 422.95,176.78L422.45,172.06A17.85,17.85 0 0 0 428.38,170.37Z" fill="#a8002c" stroke="#a8002c" stroke-width="0.6" stroke-linejoin="round"/><path d="M422.95,176.78A22.60,22.60 0 0 1 415.78,176.38L416.79,171.74A17.85,17.85 0 0 0 422.45,172.06Z" fill="#1d3c7c" stroke="#1d3c7c" stroke-width="0.6" stroke-linejoin="round"/><path d="M415.78,176.38A22.60,22.60 0 0 1 409.31,173.88L411.68,169.77A17.85,17.85 0 0 0 416.79,171.74Z" fill="#a8002c" stroke="#a8002c" stroke-width="0.6" stroke-linejoin="round"/><path d="M398.31,158.03A22.60,22.60 0 0 1 399.14,147.20L403.65,148.69A17.85,17.85 0 0 0 402.99,157.25Z" fill="#a8002c" stroke="#a8002c" stroke-width="0.6" stroke-linejoin="round"/><path d="M401.25,142.62A22.60,22.60 0 0 1 403.91,139.06L407.42,142.26A17.85,17.85 0 0 0 405.32,145.07Z" fill="#a8002c" stroke="#a8002c" stroke-width="0.6" stroke-linejoin="round"/><path d="M403.91,139.06A22.60,22.60 0 0 1 406.86,136.36L409.74,140.13A17.85,17.85 0 0 0 407.42,142.26Z" fill="#5ea236" stroke="#5ea236" stroke-width="0.6" stroke-linejoin="round"/><path d="M412.76,133.10A22.60,22.60 0 0 1 415.74,132.23L416.76,136.86A17.85,17.85 0 0 0 414.41,137.55Z" fill="#a8002c" stroke="#a8002c" stroke-width="0.6" stroke-linejoin="round"/><path d="M418.08,131.84A22.60,22.60 0 0 1 420.60,131.70L420.60,136.45A17.85,17.85 0 0 0 418.61,136.56Z" fill="#1d3c7c" stroke="#1d3c7c" stroke-width="0.6" stroke-linejoin="round"/><line x1="420.60" y1="136.55" x2="420.60" y2="131.60" stroke="#e4e8f0" stroke-width="0.6"/><line x1="437.27" y1="160.42" x2="441.91" y2="162.12" stroke="#e4e8f0" stroke-width="0.6"/><line x1="433.63" y1="166.36" x2="437.26" y2="169.71" stroke="#e4e8f0" stroke-width="0.6"/><line x1="428.34" y1="170.28" x2="430.50" y2="174.73" stroke="#e4e8f0" stroke-width="0.6"/><line x1="422.44" y1="171.96" x2="422.96" y2="176.88" stroke="#e4e8f0" stroke-width="0.6"/><line x1="416.81" y1="171.64" x2="415.75" y2="176.48" stroke="#e4e8f0" stroke-width="0.6"/><line x1="411.73" y1="169.68" x2="409.26" y2="173.96" stroke="#e4e8f0" stroke-width="0.6"/><line x1="403.09" y1="157.23" x2="398.21" y2="158.05" stroke="#e4e8f0" stroke-width="0.6"/><line x1="402.91" y1="152.79" x2="397.98" y2="152.36" stroke="#e4e8f0" stroke-width="0.6"/><line x1="403.74" y1="148.72" x2="399.05" y2="147.17" stroke="#e4e8f0" stroke-width="0.6"/><line x1="405.40" y1="145.12" x2="401.17" y2="142.57" stroke="#e4e8f0" stroke-width="0.6"/><line x1="407.49" y1="142.33" x2="403.84" y2="138.99" stroke="#e4e8f0" stroke-width="0.6"/><line x1="409.81" y1="140.20" x2="406.80" y2="136.28" stroke="#e4e8f0" stroke-width="0.6"/><line x1="414.44" y1="137.65" x2="412.72" y2="133.01" stroke="#e4e8f0" stroke-width="0.6"/><line x1="416.78" y1="136.96" x2="415.72" y2="132.13" stroke="#e4e8f0" stroke-width="0.6"/><line x1="418.62" y1="136.66" x2="418.07" y2="131.74" stroke="#e4e8f0" stroke-width="0.6"/><text x="427.15" y="131.55" font-size="2.3" text-anchor="middle" fill="#333">1</text><text x="438.25" y="138.20" font-size="2.3" text-anchor="middle" fill="#333">2</text><text x="444.04" y="148.29" font-size="2.3" text-anchor="middle" fill="#333">3</text><text x="444.75" y="158.54" font-size="2.3" text-anchor="middle" fill="#333">4</text><text x="441.41" y="167.79" font-size="2.3" text-anchor="middle" fill="#333">5</text><text x="435.13" y="174.65" font-size="2.3" text-anchor="middle" fill="#333">6</text><text x="427.29" y="178.52" font-size="2.3" text-anchor="middle" fill="#333">7</text><text x="419.25" y="179.41" font-size="2.3" text-anchor="middle" fill="#333">8</text><text x="411.80" y="177.81" font-size="2.3" text-anchor="middle" fill="#333">9</text><text x="405.43" y="174.16" font-size="2.3" text-anchor="middle" fill="#333">10</text><text x="400.53" y="168.93" font-size="2.3" text-anchor="middle" fill="#333">11</text><text x="397.38" y="162.53" font-size="2.3" text-anchor="middle" fill="#333">12</text><text x="396.22" y="156.03" font-size="2.3" text-anchor="middle" fill="#333">13</text><text x="396.70" y="150.14" font-size="2.3" text-anchor="middle" fill="#333">14</text><text x="398.43" y="144.85" font-size="2.3" text-anchor="middle" fill="#333">15</text><text x="401.05" y="140.45" font-size="2.3" text-anchor="middle" fill="#333">16</text><text x="404.11" y="137.07" font-size="2.3" text-anchor="middle" fill="#333">17</text><text x="407.47" y="134.49" font-size="2.3" text-anchor="middle" fill="#333">18</text><text x="410.68" y="132.76" font-size="2.3" text-anchor="middle" fill="#333">19</text><text x="413.73" y="131.64" font-size="2.3" text-anchor="middle" fill="#333">20</text><text x="416.61" y="130.98" font-size="2.3" text-anchor="middle" fill="#333">21</text><text x="419.24" y="130.69" font-size="2.3" text-anchor="middle" fill="#333">22</text><path d="M420.93,144.14A10.17,10.17 0 0 1 430.02,150.99" fill="none" stroke="#c9bad4" stroke-width="1.6"/><circle cx="420.40" cy="154.30" r="5.65" fill="none" stroke="#c9bad4" stroke-width="1.6"/><text x="428.65" y="155.00" font-size="2.3" text-anchor="middle" fill="#444">8</text><text x="411.85" y="155.00" font-size="2.3" text-anchor="middle" fill="#444">20</text></g><g><circle cx="482.80" cy="154.30" r="20.23" fill="none" stroke="#c9bad4" stroke-width="4.75"/><path d="M502.67,143.53A22.60,22.60 0 0 1 504.01,162.09L499.56,160.45A17.85,17.85 0 0 0 498.50,145.79Z" fill="#a8002c" stroke="#a8002c" stroke-width="0.6" stroke-linejoin="round"/><path d="M504.01,162.09A22.60,22.60 0 0 1 499.39,169.65L495.91,166.42A17.85,17.85 0 0 0 499.56,160.45Z" fill="#5ea236" stroke="#5ea236" stroke-width="0.6" stroke-linejoin="round"/><path d="M499.39,169.65A22.60,22.60 0 0 1 485.15,176.78L484.65,172.06A17.85,17.85 0 0 0 495.91,166.42Z" fill="#a8002c" stroke="#a8002c" stroke-width="0.6" stroke-linejoin="round"/><path d="M477.98,176.38A22.60,22.60 0 0 1 466.30,169.74L469.76,166.50A17.85,17.85 0 0 0 478.99,171.74Z" fill="#a8002c" stroke="#a8002c" stroke-width="0.6" stroke-linejoin="round"/><path d="M466.30,169.74A22.60,22.60 0 0 1 462.53,164.29L466.78,162.19A17.85,17.85 0 0 0 469.76,166.50Z" fill="#1d3c7c" stroke="#1d3c7c" stroke-width="0.6" stroke-linejoin="round"/><path d="M460.51,158.03A22.60,22.60 0 0 1 461.34,147.20L465.85,148.69A17.85,17.85 0 0 0 465.19,157.25Z" fill="#a8002c" stroke="#a8002c" stroke-width="0.6" stroke-linejoin="round"/><path d="M463.45,142.62A22.60,22.60 0 0 1 474.96,133.10L476.61,137.55A17.85,17.85 0 0 0 467.52,145.07Z" fill="#a8002c" stroke="#a8002c" stroke-width="0.6" stroke-linejoin="round"/><line x1="498.41" y1="145.84" x2="502.76" y2="143.48" stroke="#e4e8f0" stroke-width="0.6"/><line x1="500.52" y1="153.15" x2="505.45" y2="152.83" stroke="#e4e8f0" stroke-width="0.6"/><line x1="499.47" y1="160.42" x2="504.11" y2="162.12" stroke="#e4e8f0" stroke-width="0.6"/><line x1="495.83" y1="166.36" x2="499.46" y2="169.71" stroke="#e4e8f0" stroke-width="0.6"/><line x1="490.54" y1="170.28" x2="492.70" y2="174.73" stroke="#e4e8f0" stroke-width="0.6"/><line x1="484.64" y1="171.96" x2="485.16" y2="176.88" stroke="#e4e8f0" stroke-width="0.6"/><line x1="479.01" y1="171.64" x2="477.95" y2="176.48" stroke="#e4e8f0" stroke-width="0.6"/><line x1="473.93" y1="169.68" x2="471.46" y2="173.96" stroke="#e4e8f0" stroke-width="0.6"/><line x1="469.84" y1="166.43" x2="466.22" y2="169.81" stroke="#e4e8f0" stroke-width="0.6"/><line x1="466.87" y1="162.15" x2="462.44" y2="164.33" stroke="#e4e8f0" stroke-width="0.6"/><line x1="465.29" y1="157.23" x2="460.41" y2="158.05" stroke="#e4e8f0" stroke-width="0.6"/><line x1="465.11" y1="152.79" x2="460.18" y2="152.36" stroke="#e4e8f0" stroke-width="0.6"/><line x1="465.94" y1="148.72" x2="461.25" y2="147.17" stroke="#e4e8f0" stroke-width="0.6"/><line x1="467.60" y1="145.12" x2="463.37" y2="142.57" stroke="#e4e8f0" stroke-width="0.6"/><line x1="469.69" y1="142.33" x2="466.04" y2="138.99" stroke="#e4e8f0" stroke-width="0.6"/><line x1="472.01" y1="140.20" x2="469.00" y2="136.28" stroke="#e4e8f0" stroke-width="0.6"/><line x1="474.55" y1="138.58" x2="472.25" y2="134.20" stroke="#e4e8f0" stroke-width="0.6"/><line x1="476.64" y1="137.65" x2="474.92" y2="133.01" stroke="#e4e8f0" stroke-width="0.6"/><text x="489.35" y="131.55" font-size="2.3" text-anchor="middle" fill="#333">1</text><text x="500.45" y="138.20" font-size="2.3" text-anchor="middle" fill="#333">2</text><text x="506.24" y="148.29" font-size="2.3" text-anchor="middle" fill="#333">3</text><text x="506.95" y="158.54" font-size="2.3" text-anchor="middle" fill="#333">4</text><text x="503.61" y="167.79" font-size="2.3" text-anchor="middle" fill="#333">5</text><text x="497.33" y="174.65" font-size="2.3" text-anchor="middle" fill="#333">6</text><text x="489.49" y="178.52" font-size="2.3" text-anchor="middle" fill="#333">7</text><text x="481.45" y="179.41" font-size="2.3" text-anchor="middle" fill="#333">8</text><text x="474.00" y="177.81" font-size="2.3" text-anchor="middle" fill="#333">9</text><text x="467.63" y="174.16" font-size="2.3" text-anchor="middle" fill="#333">10</text><text x="462.73" y="168.93" font-size="2.3" text-anchor="middle" fill="#333">11</text><text x="459.58" y="162.53" font-size="2.3" text-anchor="middle" fill="#333">12</text><text x="458.42" y="156.03" font-size="2.3" text-anchor="middle" fill="#333">13</text><text x="458.90" y="150.14" font-size="2.3" text-anchor="middle" fill="#333">14</text><text x="460.63" y="144.85" font-size="2.3" text-anchor="middle" fill="#333">15</text><text x="463.25" y="140.45" font-size="2.3" text-anchor="middle" fill="#333">16</text><text x="466.31" y="137.07" font-size="2.3" text-anchor="middle" fill="#333">17</text><text x="469.67" y="134.49" font-size="2.3" text-anchor="middle" fill="#333">18</text><text x="472.88" y="132.76" font-size="2.3" text-anchor="middle" fill="#333">19</text><text x="475.93" y="131.64" font-size="2.3" text-anchor="middle" fill="#333">20</text><text x="478.81" y="130.98" font-size="2.3" text-anchor="middle" fill="#333">21</text><text x="481.44" y="130.69" font-size="2.3" text-anchor="middle" fill="#333">22</text><path d="M483.13,144.14A10.17,10.17 0 0 1 492.22,150.99" fill="none" stroke="#c9bad4" stroke-width="1.6"/><path d="M482.60,148.88A5.42,5.42 0 0 1 482.60,159.72" fill="none" stroke="#c9bad4" stroke-width="2.0"/><path d="M482.60,159.72A5.42,5.42 0 0 1 482.60,148.88" fill="none" stroke="#1d3c7c" stroke-width="2.3"/><text x="491.02" y="155.00" font-size="2.3" text-anchor="middle" fill="#444">8</text><text x="473.78" y="155.00" font-size="2.3" text-anchor="middle" fill="#444">20</text></g><g><circle cx="72.40" cy="345.70" r="21.30" fill="none" stroke="#c9bad4" stroke-width="5.00"/><path d="M94.74,353.90A23.80,23.80 0 0 1 89.87,361.86L86.20,358.47A18.80,18.80 0 0 0 90.05,352.18Z" fill="#a8002c" stroke="#a8002c" stroke-width="0.6" stroke-linejoin="round"/><path d="M82.78,367.12A23.80,23.80 0 0 1 74.87,369.37L74.35,364.40A18.80,18.80 0 0 0 80.60,362.62Z" fill="#a8002c" stroke="#a8002c" stroke-width="0.6" stroke-linejoin="round"/><path d="M51.05,356.22A23.80,23.80 0 0 1 48.93,349.63L53.86,348.80A18.80,18.80 0 0 0 55.53,354.01Z" fill="#5ea236" stroke="#5ea236" stroke-width="0.6" stroke-linejoin="round"/><path d="M48.69,343.67A23.80,23.80 0 0 1 49.80,338.22L54.55,339.79A18.80,18.80 0 0 0 53.67,344.10Z" fill="#a8002c" stroke="#a8002c" stroke-width="0.6" stroke-linejoin="round"/><line x1="89.96" y1="352.15" x2="94.84" y2="353.94" stroke="#e4e8f0" stroke-width="0.6"/><line x1="86.13" y1="358.40" x2="89.94" y2="361.93" stroke="#e4e8f0" stroke-width="0.6"/><line x1="80.55" y1="362.53" x2="82.82" y2="367.21" stroke="#e4e8f0" stroke-width="0.6"/><line x1="74.34" y1="364.30" x2="74.88" y2="369.47" stroke="#e4e8f0" stroke-width="0.6"/><line x1="55.62" y1="353.96" x2="50.96" y2="356.26" stroke="#e4e8f0" stroke-width="0.6"/><line x1="53.95" y1="348.79" x2="48.83" y2="349.64" stroke="#e4e8f0" stroke-width="0.6"/><line x1="53.77" y1="344.10" x2="48.59" y2="343.66" stroke="#e4e8f0" stroke-width="0.6"/><line x1="54.64" y1="339.83" x2="49.71" y2="338.19" stroke="#e4e8f0" stroke-width="0.6"/><text x="79.27" y="321.79" font-size="2.3" text-anchor="middle" fill="#333">1</text><text x="90.92" y="328.78" font-size="2.3" text-anchor="middle" fill="#333">2</text><text x="97.00" y="339.35" font-size="2.3" text-anchor="middle" fill="#333">3</text><text x="97.74" y="350.11" font-size="2.3" text-anchor="middle" fill="#333">4</text><text x="94.24" y="359.81" font-size="2.3" text-anchor="middle" fill="#333">5</text><text x="87.64" y="367.02" font-size="2.3" text-anchor="middle" fill="#333">6</text><text x="79.42" y="371.07" font-size="2.3" text-anchor="middle" fill="#333">7</text><text x="70.98" y="372.01" font-size="2.3" text-anchor="middle" fill="#333">8</text><text x="63.16" y="370.33" font-size="2.3" text-anchor="middle" fill="#333">9</text><text x="56.49" y="366.50" font-size="2.3" text-anchor="middle" fill="#333">10</text><text x="51.34" y="361.01" font-size="2.3" text-anchor="middle" fill="#333">11</text><text x="48.03" y="354.30" font-size="2.3" text-anchor="middle" fill="#333">12</text><text x="46.82" y="347.48" font-size="2.3" text-anchor="middle" fill="#333">13</text><text x="47.32" y="341.30" font-size="2.3" text-anchor="middle" fill="#333">14</text><text x="49.14" y="335.75" font-size="2.3" text-anchor="middle" fill="#333">15</text><text x="51.89" y="331.13" font-size="2.3" text-anchor="middle" fill="#333">16</text><text x="55.10" y="327.58" font-size="2.3" text-anchor="middle" fill="#333">17</text><text x="58.62" y="324.88" font-size="2.3" text-anchor="middle" fill="#333">18</text><text x="61.99" y="323.06" font-size="2.3" text-anchor="middle" fill="#333">19</text><text x="65.19" y="321.89" font-size="2.3" text-anchor="middle" fill="#333">20</text><text x="68.21" y="321.20" font-size="2.3" text-anchor="middle" fill="#333">21</text><text x="70.97" y="320.89" font-size="2.3" text-anchor="middle" fill="#333">22</text><path d="M71.69,340.13A5.59,5.59 0 1 1 65.61,345.90" fill="none" stroke="#c9bad4" stroke-width="1.7"/><text x="79.59" y="346.69" font-size="2.3" text-anchor="middle" fill="#444">8</text><text x="64.43" y="351.69" font-size="2.3" text-anchor="middle" fill="#444">5</text></g><g><circle cx="136.20" cy="345.70" r="21.30" fill="none" stroke="#c9bad4" stroke-width="5.00"/><path d="M158.54,353.90A23.80,23.80 0 0 1 153.67,361.86L150.00,358.47A18.80,18.80 0 0 0 153.85,352.18Z" fill="#a8002c" stroke="#a8002c" stroke-width="0.6" stroke-linejoin="round"/><path d="M146.58,367.12A23.80,23.80 0 0 1 138.67,369.37L138.15,364.40A18.80,18.80 0 0 0 144.40,362.62Z" fill="#a8002c" stroke="#a8002c" stroke-width="0.6" stroke-linejoin="round"/><path d="M114.85,356.22A23.80,23.80 0 0 1 112.73,349.63L117.66,348.80A18.80,18.80 0 0 0 119.33,354.01Z" fill="#5ea236" stroke="#5ea236" stroke-width="0.6" stroke-linejoin="round"/><path d="M112.49,343.67A23.80,23.80 0 0 1 113.60,338.22L118.35,339.79A18.80,18.80 0 0 0 117.47,344.10Z" fill="#a8002c" stroke="#a8002c" stroke-width="0.6" stroke-linejoin="round"/><line x1="153.76" y1="352.15" x2="158.64" y2="353.94" stroke="#e4e8f0" stroke-width="0.6"/><line x1="149.93" y1="358.40" x2="153.74" y2="361.93" stroke="#e4e8f0" stroke-width="0.6"/><line x1="144.35" y1="362.53" x2="146.62" y2="367.21" stroke="#e4e8f0" stroke-width="0.6"/><line x1="138.14" y1="364.30" x2="138.68" y2="369.47" stroke="#e4e8f0" stroke-width="0.6"/><line x1="119.42" y1="353.96" x2="114.76" y2="356.26" stroke="#e4e8f0" stroke-width="0.6"/><line x1="117.75" y1="348.79" x2="112.63" y2="349.64" stroke="#e4e8f0" stroke-width="0.6"/><line x1="117.57" y1="344.10" x2="112.39" y2="343.66" stroke="#e4e8f0" stroke-width="0.6"/><line x1="118.44" y1="339.83" x2="113.51" y2="338.19" stroke="#e4e8f0" stroke-width="0.6"/><text x="143.07" y="321.79" font-size="2.3" text-anchor="middle" fill="#333">1</text><text x="154.72" y="328.78" font-size="2.3" text-anchor="middle" fill="#333">2</text><text x="160.80" y="339.35" font-size="2.3" text-anchor="middle" fill="#333">3</text><text x="161.54" y="350.11" font-size="2.3" text-anchor="middle" fill="#333">4</text><text x="158.04" y="359.81" font-size="2.3" text-anchor="middle" fill="#333">5</text><text x="151.44" y="367.02" font-size="2.3" text-anchor="middle" fill="#333">6</text><text x="143.22" y="371.07" font-size="2.3" text-anchor="middle" fill="#333">7</text><text x="134.78" y="372.01" font-size="2.3" text-anchor="middle" fill="#333">8</text><text x="126.96" y="370.33" font-size="2.3" text-anchor="middle" fill="#333">9</text><text x="120.29" y="366.50" font-size="2.3" text-anchor="middle" fill="#333">10</text><text x="115.14" y="361.01" font-size="2.3" text-anchor="middle" fill="#333">11</text><text x="111.83" y="354.30" font-size="2.3" text-anchor="middle" fill="#333">12</text><text x="110.62" y="347.48" font-size="2.3" text-anchor="middle" fill="#333">13</text><text x="111.12" y="341.30" font-size="2.3" text-anchor="middle" fill="#333">14</text><text x="112.94" y="335.75" font-size="2.3" text-anchor="middle" fill="#333">15</text><text x="115.69" y="331.13" font-size="2.3" text-anchor="middle" fill="#333">16</text><text x="118.90" y="327.58" font-size="2.3" text-anchor="middle" fill="#333">17</text><text x="122.42" y="324.88" font-size="2.3" text-anchor="middle" fill="#333">18</text><text x="125.79" y="323.06" font-size="2.3" text-anchor="middle" fill="#333">19</text><text x="128.99" y="321.89" font-size="2.3" text-anchor="middle" fill="#333">20</text><text x="132.01" y="321.20" font-size="2.3" text-anchor="middle" fill="#333">21</text><text x="134.77" y="320.89" font-size="2.3" text-anchor="middle" fill="#333">22</text><path d="M118.54,350.10C120.27,349.67 120.03,342.85 118.27,342.54" fill="none" stroke="#1a1a1a" stroke-width="0.8"/><path d="M135.49,340.13A5.59,5.59 0 1 1 129.41,345.90" fill="none" stroke="#c9bad4" stroke-width="1.7"/><text x="143.39" y="346.69" font-size="2.3" text-anchor="middle" fill="#444">8</text><text x="128.23" y="351.69" font-size="2.3" text-anchor="middle" fill="#444">5</text></g><g><circle cx="242.90" cy="341.80" r="19.87" fill="none" stroke="#c9bad4" stroke-width="4.66"/><path d="M262.42,331.22A22.20,22.20 0 0 1 263.74,349.45L259.36,347.85A17.54,17.54 0 0 0 258.32,333.44Z" fill="#5ea236" stroke="#5ea236" stroke-width="0.6" stroke-linejoin="round"/><path d="M263.74,349.45A22.20,22.20 0 0 1 259.20,356.88L255.77,353.71A17.54,17.54 0 0 0 259.36,347.85Z" fill="#a8002c" stroke="#a8002c" stroke-width="0.6" stroke-linejoin="round"/><path d="M259.20,356.88A22.20,22.20 0 0 1 252.58,361.78L250.55,357.58A17.54,17.54 0 0 0 255.77,353.71Z" fill="#1d3c7c" stroke="#1d3c7c" stroke-width="0.6" stroke-linejoin="round"/><path d="M252.58,361.78A22.20,22.20 0 0 1 245.21,363.88L244.72,359.24A17.54,17.54 0 0 0 250.55,357.58Z" fill="#5ea236" stroke="#5ea236" stroke-width="0.6" stroke-linejoin="round"/><path d="M226.51,326.83A22.20,22.20 0 0 1 229.40,324.17L232.24,327.88A17.54,17.54 0 0 0 229.95,329.97Z" fill="#1d3c7c" stroke="#1d3c7c" stroke-width="0.6" stroke-linejoin="round"/><path d="M232.58,322.14A22.20,22.20 0 0 1 235.20,320.98L236.82,325.35A17.54,17.54 0 0 0 234.75,326.27Z" fill="#a8002c" stroke="#a8002c" stroke-width="0.6" stroke-linejoin="round"/><line x1="258.23" y1="333.49" x2="262.50" y2="331.17" stroke="#e4e8f0" stroke-width="0.6"/><line x1="260.30" y1="340.67" x2="265.15" y2="340.35" stroke="#e4e8f0" stroke-width="0.6"/><line x1="259.27" y1="347.81" x2="263.83" y2="349.49" stroke="#e4e8f0" stroke-width="0.6"/><line x1="255.70" y1="353.64" x2="259.27" y2="356.94" stroke="#e4e8f0" stroke-width="0.6"/><line x1="250.50" y1="357.49" x2="252.62" y2="361.87" stroke="#e4e8f0" stroke-width="0.6"/><line x1="244.71" y1="359.14" x2="245.22" y2="363.98" stroke="#e4e8f0" stroke-width="0.6"/><line x1="230.02" y1="330.04" x2="226.43" y2="326.76" stroke="#e4e8f0" stroke-width="0.6"/><line x1="232.30" y1="327.96" x2="229.34" y2="324.10" stroke="#e4e8f0" stroke-width="0.6"/><line x1="234.80" y1="326.36" x2="232.54" y2="322.05" stroke="#e4e8f0" stroke-width="0.6"/><line x1="236.85" y1="325.45" x2="235.16" y2="320.89" stroke="#e4e8f0" stroke-width="0.6"/><text x="249.34" y="319.43" font-size="2.3" text-anchor="middle" fill="#333">1</text><text x="260.26" y="325.98" font-size="2.3" text-anchor="middle" fill="#333">2</text><text x="265.96" y="335.90" font-size="2.3" text-anchor="middle" fill="#333">3</text><text x="266.65" y="345.98" font-size="2.3" text-anchor="middle" fill="#333">4</text><text x="263.37" y="355.08" font-size="2.3" text-anchor="middle" fill="#333">5</text><text x="257.19" y="361.83" font-size="2.3" text-anchor="middle" fill="#333">6</text><text x="249.48" y="365.63" font-size="2.3" text-anchor="middle" fill="#333">7</text><text x="241.57" y="366.51" font-size="2.3" text-anchor="middle" fill="#333">8</text><text x="234.24" y="364.93" font-size="2.3" text-anchor="middle" fill="#333">9</text><text x="227.98" y="361.35" font-size="2.3" text-anchor="middle" fill="#333">10</text><text x="223.16" y="356.20" font-size="2.3" text-anchor="middle" fill="#333">11</text><text x="220.06" y="349.91" font-size="2.3" text-anchor="middle" fill="#333">12</text><text x="218.92" y="343.51" font-size="2.3" text-anchor="middle" fill="#333">13</text><text x="219.39" y="337.72" font-size="2.3" text-anchor="middle" fill="#333">14</text><text x="221.10" y="332.52" font-size="2.3" text-anchor="middle" fill="#333">15</text><text x="223.67" y="328.19" font-size="2.3" text-anchor="middle" fill="#333">16</text><text x="226.68" y="324.86" font-size="2.3" text-anchor="middle" fill="#333">17</text><text x="229.98" y="322.32" font-size="2.3" text-anchor="middle" fill="#333">18</text><text x="233.14" y="320.62" font-size="2.3" text-anchor="middle" fill="#333">19</text><text x="236.14" y="319.52" font-size="2.3" text-anchor="middle" fill="#333">20</text><text x="238.97" y="318.87" font-size="2.3" text-anchor="middle" fill="#333">21</text><text x="241.56" y="318.59" font-size="2.3" text-anchor="middle" fill="#333">22</text><path d="M257.42,350.52C254.13,348.55 245.62,354.61 246.42,358.37" fill="none" stroke="#1a1a1a" stroke-width="0.8"/><path d="M242.22,331.82A9.99,9.99 0 0 1 251.15,338.55" fill="none" stroke="#c9bad4" stroke-width="1.6"/><circle cx="241.70" cy="341.80" r="4.44" fill="none" stroke="#c9bad4" stroke-width="1.45"/><text x="248.74" y="342.50" font-size="2.3" text-anchor="middle" fill="#444">8</text><text x="234.36" y="342.50" font-size="2.3" text-anchor="middle" fill="#444">20</text></g><g><circle cx="303.80" cy="341.80" r="19.87" fill="none" stroke="#c9bad4" stroke-width="4.66"/><path d="M325.95,340.36A22.20,22.20 0 0 1 324.64,349.45L320.26,347.85A17.54,17.54 0 0 0 321.30,340.66Z" fill="#5ea236" stroke="#5ea236" stroke-width="0.6" stroke-linejoin="round"/><path d="M324.64,349.45A22.20,22.20 0 0 1 320.10,356.88L316.67,353.71A17.54,17.54 0 0 0 320.26,347.85Z" fill="#a8002c" stroke="#a8002c" stroke-width="0.6" stroke-linejoin="round"/><path d="M313.48,361.78A22.20,22.20 0 0 1 306.11,363.88L305.62,359.24A17.54,17.54 0 0 0 311.45,357.58Z" fill="#5ea236" stroke="#5ea236" stroke-width="0.6" stroke-linejoin="round"/><path d="M287.59,356.97A22.20,22.20 0 0 1 283.88,351.61L288.07,349.55A17.54,17.54 0 0 0 290.99,353.78Z" fill="#5ea236" stroke="#5ea236" stroke-width="0.6" stroke-linejoin="round"/><path d="M287.41,326.83A22.20,22.20 0 0 1 290.30,324.17L293.14,327.88A17.54,17.54 0 0 0 290.85,329.97Z" fill="#1d3c7c" stroke="#1d3c7c" stroke-width="0.6" stroke-linejoin="round"/><line x1="321.20" y1="340.67" x2="326.05" y2="340.35" stroke="#e4e8f0" stroke-width="0.6"/><line x1="320.17" y1="347.81" x2="324.73" y2="349.49" stroke="#e4e8f0" stroke-width="0.6"/><line x1="316.60" y1="353.64" x2="320.17" y2="356.94" stroke="#e4e8f0" stroke-width="0.6"/><line x1="311.40" y1="357.49" x2="313.52" y2="361.87" stroke="#e4e8f0" stroke-width="0.6"/><line x1="305.61" y1="359.14" x2="306.12" y2="363.98" stroke="#e4e8f0" stroke-width="0.6"/><line x1="291.07" y1="353.71" x2="287.52" y2="357.04" stroke="#e4e8f0" stroke-width="0.6"/><line x1="288.16" y1="349.51" x2="283.80" y2="351.65" stroke="#e4e8f0" stroke-width="0.6"/><line x1="290.92" y1="330.04" x2="287.33" y2="326.76" stroke="#e4e8f0" stroke-width="0.6"/><line x1="293.20" y1="327.96" x2="290.24" y2="324.10" stroke="#e4e8f0" stroke-width="0.6"/><text x="310.24" y="319.43" font-size="2.3" text-anchor="middle" fill="#333">1</text><text x="321.16" y="325.98" font-size="2.3" text-anchor="middle" fill="#333">2</text><text x="326.86" y="335.90" font-size="2.3" text-anchor="middle" fill="#333">3</text><text x="327.55" y="345.98" font-size="2.3" text-anchor="middle" fill="#333">4</text><text x="324.27" y="355.08" font-size="2.3" text-anchor="middle" fill="#333">5</text><text x="318.09" y="361.83" font-size="2.3" text-anchor="middle" fill="#333">6</text><text x="310.38" y="365.63" font-size="2.3" text-anchor="middle" fill="#333">7</text><text x="302.47" y="366.51" font-size="2.3" text-anchor="middle" fill="#333">8</text><text x="295.14" y="364.93" font-size="2.3" text-anchor="middle" fill="#333">9</text><text x="288.88" y="361.35" font-size="2.3" text-anchor="middle" fill="#333">10</text><text x="284.06" y="356.20" font-size="2.3" text-anchor="middle" fill="#333">11</text><text x="280.96" y="349.91" font-size="2.3" text-anchor="middle" fill="#333">12</text><text x="279.82" y="343.51" font-size="2.3" text-anchor="middle" fill="#333">13</text><text x="280.29" y="337.72" font-size="2.3" text-anchor="middle" fill="#333">14</text><text x="282.00" y="332.52" font-size="2.3" text-anchor="middle" fill="#333">15</text><text x="284.57" y="328.19" font-size="2.3" text-anchor="middle" fill="#333">16</text><text x="287.58" y="324.86" font-size="2.3" text-anchor="middle" fill="#333">17</text><text x="290.88" y="322.32" font-size="2.3" text-anchor="middle" fill="#333">18</text><text x="294.04" y="320.62" font-size="2.3" text-anchor="middle" fill="#333">19</text><text x="297.04" y="319.52" font-size="2.3" text-anchor="middle" fill="#333">20</text><text x="299.87" y="318.87" font-size="2.3" text-anchor="middle" fill="#333">21</text><text x="302.46" y="318.59" font-size="2.3" text-anchor="middle" fill="#333">22</text><path d="M318.32,350.52C315.03,348.55 306.52,354.61 307.32,358.37" fill="none" stroke="#1a1a1a" stroke-width="0.8"/><path d="M303.12,331.82A9.99,9.99 0 0 1 312.05,338.55" fill="none" stroke="#c9bad4" stroke-width="1.6"/><circle cx="302.60" cy="341.80" r="4.44" fill="none" stroke="#c9bad4" stroke-width="1.45"/><text x="309.64" y="342.50" font-size="2.3" text-anchor="middle" fill="#444">8</text><text x="295.26" y="342.50" font-size="2.3" text-anchor="middle" fill="#444">20</text></g><g><circle cx="68.20" cy="523.50" r="20.76" fill="none" stroke="#c9bad4" stroke-width="4.87"/><path d="M68.20,500.30A23.20,23.20 0 0 1 80.20,503.64L77.68,507.81A18.33,18.33 0 0 0 68.20,505.17Z" fill="#1d3c7c" stroke="#1d3c7c" stroke-width="0.6" stroke-linejoin="round"/><path d="M91.35,521.99A23.20,23.20 0 0 1 89.98,531.50L85.40,529.82A18.33,18.33 0 0 0 86.49,522.31Z" fill="#1d3c7c" stroke="#1d3c7c" stroke-width="0.6" stroke-linejoin="round"/><path d="M89.98,531.50A23.20,23.20 0 0 1 85.23,539.25L81.65,535.95A18.33,18.33 0 0 0 85.40,529.82Z" fill="#a8002c" stroke="#a8002c" stroke-width="0.6" stroke-linejoin="round"/><path d="M78.31,544.38A23.20,23.20 0 0 1 70.61,546.57L70.10,541.73A18.33,18.33 0 0 0 76.19,539.99Z" fill="#a8002c" stroke="#a8002c" stroke-width="0.6" stroke-linejoin="round"/><path d="M70.61,546.57A23.20,23.20 0 0 1 63.25,546.17L64.29,541.41A18.33,18.33 0 0 0 70.10,541.73Z" fill="#1d3c7c" stroke="#1d3c7c" stroke-width="0.6" stroke-linejoin="round"/><path d="M56.61,543.60A23.20,23.20 0 0 1 51.26,539.35L54.82,536.02A18.33,18.33 0 0 0 59.04,539.38Z" fill="#a8002c" stroke="#a8002c" stroke-width="0.6" stroke-linejoin="round"/><path d="M47.39,533.75A23.20,23.20 0 0 1 45.32,527.33L50.12,526.52A18.33,18.33 0 0 0 51.76,531.60Z" fill="#a8002c" stroke="#a8002c" stroke-width="0.6" stroke-linejoin="round"/><path d="M45.08,521.52A23.20,23.20 0 0 1 46.17,516.21L50.80,517.74A18.33,18.33 0 0 0 49.94,521.94Z" fill="#1d3c7c" stroke="#1d3c7c" stroke-width="0.6" stroke-linejoin="round"/><path d="M65.61,500.45A23.20,23.20 0 0 1 68.20,500.30L68.20,505.17A18.33,18.33 0 0 0 66.15,505.29Z" fill="#5ea236" stroke="#5ea236" stroke-width="0.6" stroke-linejoin="round"/><line x1="68.20" y1="505.27" x2="68.20" y2="500.20" stroke="#e4e8f0" stroke-width="0.6"/><line x1="77.63" y1="507.90" x2="80.25" y2="503.56" stroke="#e4e8f0" stroke-width="0.6"/><line x1="86.39" y1="522.32" x2="91.45" y2="521.99" stroke="#e4e8f0" stroke-width="0.6"/><line x1="85.31" y1="529.78" x2="90.07" y2="531.53" stroke="#e4e8f0" stroke-width="0.6"/><line x1="81.58" y1="535.88" x2="85.30" y2="539.32" stroke="#e4e8f0" stroke-width="0.6"/><line x1="76.15" y1="539.90" x2="78.36" y2="544.47" stroke="#e4e8f0" stroke-width="0.6"/><line x1="70.09" y1="541.63" x2="70.62" y2="546.67" stroke="#e4e8f0" stroke-width="0.6"/><line x1="64.31" y1="541.31" x2="63.23" y2="546.26" stroke="#e4e8f0" stroke-width="0.6"/><line x1="59.09" y1="539.29" x2="56.56" y2="543.68" stroke="#e4e8f0" stroke-width="0.6"/><line x1="54.89" y1="535.95" x2="51.19" y2="539.42" stroke="#e4e8f0" stroke-width="0.6"/><line x1="51.85" y1="531.55" x2="47.30" y2="533.80" stroke="#e4e8f0" stroke-width="0.6"/><line x1="50.22" y1="526.51" x2="45.22" y2="527.34" stroke="#e4e8f0" stroke-width="0.6"/><line x1="50.04" y1="521.95" x2="44.98" y2="521.51" stroke="#e4e8f0" stroke-width="0.6"/><line x1="50.89" y1="517.77" x2="46.08" y2="516.18" stroke="#e4e8f0" stroke-width="0.6"/><line x1="66.16" y1="505.39" x2="65.60" y2="500.35" stroke="#e4e8f0" stroke-width="0.6"/><text x="74.91" y="500.17" font-size="2.3" text-anchor="middle" fill="#333">1</text><text x="86.29" y="506.99" font-size="2.3" text-anchor="middle" fill="#333">2</text><text x="92.22" y="517.32" font-size="2.3" text-anchor="middle" fill="#333">3</text><text x="92.94" y="527.82" font-size="2.3" text-anchor="middle" fill="#333">4</text><text x="89.52" y="537.30" font-size="2.3" text-anchor="middle" fill="#333">5</text><text x="83.08" y="544.34" font-size="2.3" text-anchor="middle" fill="#333">6</text><text x="75.05" y="548.29" font-size="2.3" text-anchor="middle" fill="#333">7</text><text x="66.81" y="549.21" font-size="2.3" text-anchor="middle" fill="#333">8</text><text x="59.18" y="547.57" font-size="2.3" text-anchor="middle" fill="#333">9</text><text x="52.66" y="543.83" font-size="2.3" text-anchor="middle" fill="#333">10</text><text x="47.64" y="538.47" font-size="2.3" text-anchor="middle" fill="#333">11</text><text x="44.40" y="531.92" font-size="2.3" text-anchor="middle" fill="#333">12</text><text x="43.22" y="525.25" font-size="2.3" text-anchor="middle" fill="#333">13</text><text x="43.71" y="519.22" font-size="2.3" text-anchor="middle" fill="#333">14</text><text x="45.49" y="513.80" font-size="2.3" text-anchor="middle" fill="#333">15</text><text x="48.17" y="509.29" font-size="2.3" text-anchor="middle" fill="#333">16</text><text x="51.30" y="505.82" font-size="2.3" text-anchor="middle" fill="#333">17</text><text x="54.74" y="503.18" font-size="2.3" text-anchor="middle" fill="#333">18</text><text x="58.03" y="501.41" font-size="2.3" text-anchor="middle" fill="#333">19</text><text x="61.16" y="500.26" font-size="2.3" text-anchor="middle" fill="#333">20</text><text x="64.11" y="499.59" font-size="2.3" text-anchor="middle" fill="#333">21</text><text x="66.80" y="499.29" font-size="2.3" text-anchor="middle" fill="#333">22</text><path d="M67.55,513.07A10.44,10.44 0 0 1 76.87,520.10" fill="none" stroke="#c9bad4" stroke-width="1.6"/><circle cx="67.00" cy="523.50" r="6.50" fill="none" stroke="#c9bad4" stroke-width="2.1"/><text x="76.10" y="524.20" font-size="2.3" text-anchor="middle" fill="#444">8</text><text x="57.60" y="524.20" font-size="2.3" text-anchor="middle" fill="#444">20</text></g><g><circle cx="131.60" cy="523.50" r="20.76" fill="none" stroke="#c9bad4" stroke-width="4.87"/><path d="M131.60,500.30A23.20,23.20 0 0 1 143.60,503.64L141.08,507.81A18.33,18.33 0 0 0 131.60,505.17Z" fill="#1d3c7c" stroke="#1d3c7c" stroke-width="0.6" stroke-linejoin="round"/><path d="M154.75,521.99A23.20,23.20 0 0 1 153.38,531.50L148.80,529.82A18.33,18.33 0 0 0 149.89,522.31Z" fill="#1d3c7c" stroke="#1d3c7c" stroke-width="0.6" stroke-linejoin="round"/><path d="M153.38,531.50A23.20,23.20 0 0 1 148.63,539.25L145.05,535.95A18.33,18.33 0 0 0 148.80,529.82Z" fill="#a8002c" stroke="#a8002c" stroke-width="0.6" stroke-linejoin="round"/><path d="M141.71,544.38A23.20,23.20 0 0 1 134.01,546.57L133.50,541.73A18.33,18.33 0 0 0 139.59,539.99Z" fill="#a8002c" stroke="#a8002c" stroke-width="0.6" stroke-linejoin="round"/><path d="M134.01,546.57A23.20,23.20 0 0 1 126.65,546.17L127.69,541.41A18.33,18.33 0 0 0 133.50,541.73Z" fill="#1d3c7c" stroke="#1d3c7c" stroke-width="0.6" stroke-linejoin="round"/><path d="M120.01,543.60A23.20,23.20 0 0 1 110.79,533.75L115.16,531.60A18.33,18.33 0 0 0 122.44,539.38Z" fill="#a8002c" stroke="#a8002c" stroke-width="0.6" stroke-linejoin="round"/><path d="M110.79,533.75A23.20,23.20 0 0 1 108.72,527.33L113.52,526.52A18.33,18.33 0 0 0 115.16,531.60Z" fill="#5ea236" stroke="#5ea236" stroke-width="0.6" stroke-linejoin="round"/><path d="M108.48,521.52A23.20,23.20 0 0 1 109.57,516.21L114.20,517.74A18.33,18.33 0 0 0 113.34,521.94Z" fill="#1d3c7c" stroke="#1d3c7c" stroke-width="0.6" stroke-linejoin="round"/><path d="M109.57,516.21A23.20,23.20 0 0 1 111.74,511.51L115.91,514.03A18.33,18.33 0 0 0 114.20,517.74Z" fill="#a8002c" stroke="#a8002c" stroke-width="0.6" stroke-linejoin="round"/><path d="M126.61,500.84A23.20,23.20 0 0 1 129.01,500.45L129.55,505.29A18.33,18.33 0 0 0 127.66,505.60Z" fill="#1d3c7c" stroke="#1d3c7c" stroke-width="0.6" stroke-linejoin="round"/><path d="M129.01,500.45A23.20,23.20 0 0 1 131.60,500.30L131.60,505.17A18.33,18.33 0 0 0 129.55,505.29Z" fill="#5ea236" stroke="#5ea236" stroke-width="0.6" stroke-linejoin="round"/><line x1="131.60" y1="505.27" x2="131.60" y2="500.20" stroke="#e4e8f0" stroke-width="0.6"/><line x1="141.03" y1="507.90" x2="143.65" y2="503.56" stroke="#e4e8f0" stroke-width="0.6"/><line x1="149.79" y1="522.32" x2="154.85" y2="521.99" stroke="#e4e8f0" stroke-width="0.6"/><line x1="148.71" y1="529.78" x2="153.47" y2="531.53" stroke="#e4e8f0" stroke-width="0.6"/><line x1="144.98" y1="535.88" x2="148.70" y2="539.32" stroke="#e4e8f0" stroke-width="0.6"/><line x1="139.55" y1="539.90" x2="141.76" y2="544.47" stroke="#e4e8f0" stroke-width="0.6"/><line x1="133.49" y1="541.63" x2="134.02" y2="546.67" stroke="#e4e8f0" stroke-width="0.6"/><line x1="127.71" y1="541.31" x2="126.63" y2="546.26" stroke="#e4e8f0" stroke-width="0.6"/><line x1="122.49" y1="539.29" x2="119.96" y2="543.68" stroke="#e4e8f0" stroke-width="0.6"/><line x1="118.29" y1="535.95" x2="114.59" y2="539.42" stroke="#e4e8f0" stroke-width="0.6"/><line x1="115.25" y1="531.55" x2="110.70" y2="533.80" stroke="#e4e8f0" stroke-width="0.6"/><line x1="113.62" y1="526.51" x2="108.62" y2="527.34" stroke="#e4e8f0" stroke-width="0.6"/><line x1="113.44" y1="521.95" x2="108.38" y2="521.51" stroke="#e4e8f0" stroke-width="0.6"/><line x1="114.29" y1="517.77" x2="109.48" y2="516.18" stroke="#e4e8f0" stroke-width="0.6"/><line x1="116.00" y1="514.08" x2="111.65" y2="511.46" stroke="#e4e8f0" stroke-width="0.6"/><line x1="127.68" y1="505.70" x2="126.59" y2="500.75" stroke="#e4e8f0" stroke-width="0.6"/><line x1="129.56" y1="505.39" x2="129.00" y2="500.35" stroke="#e4e8f0" stroke-width="0.6"/><text x="138.31" y="500.17" font-size="2.3" text-anchor="middle" fill="#333">1</text><text x="149.69" y="506.99" font-size="2.3" text-anchor="middle" fill="#333">2</text><text x="155.62" y="517.32" font-size="2.3" text-anchor="middle" fill="#333">3</text><text x="156.34" y="527.82" font-size="2.3" text-anchor="middle" fill="#333">4</text><text x="152.92" y="537.30" font-size="2.3" text-anchor="middle" fill="#333">5</text><text x="146.48" y="544.34" font-size="2.3" text-anchor="middle" fill="#333">6</text><text x="138.45" y="548.29" font-size="2.3" text-anchor="middle" fill="#333">7</text><text x="130.21" y="549.21" font-size="2.3" text-anchor="middle" fill="#333">8</text><text x="122.58" y="547.57" font-size="2.3" text-anchor="middle" fill="#333">9</text><text x="116.06" y="543.83" font-size="2.3" text-anchor="middle" fill="#333">10</text><text x="111.04" y="538.47" font-size="2.3" text-anchor="middle" fill="#333">11</text><text x="107.80" y="531.92" font-size="2.3" text-anchor="middle" fill="#333">12</text><text x="106.62" y="525.25" font-size="2.3" text-anchor="middle" fill="#333">13</text><text x="107.11" y="519.22" font-size="2.3" text-anchor="middle" fill="#333">14</text><text x="108.89" y="513.80" font-size="2.3" text-anchor="middle" fill="#333">15</text><text x="111.57" y="509.29" font-size="2.3" text-anchor="middle" fill="#333">16</text><text x="114.70" y="505.82" font-size="2.3" text-anchor="middle" fill="#333">17</text><text x="118.14" y="503.18" font-size="2.3" text-anchor="middle" fill="#333">18</text><text x="121.43" y="501.41" font-size="2.3" text-anchor="middle" fill="#333">19</text><text x="124.56" y="500.26" font-size="2.3" text-anchor="middle" fill="#333">20</text><text x="127.51" y="499.59" font-size="2.3" text-anchor="middle" fill="#333">21</text><text x="130.20" y="499.29" font-size="2.3" text-anchor="middle" fill="#333">22</text><path d="M130.95,513.07A10.44,10.44 0 0 1 140.27,520.10" fill="none" stroke="#c9bad4" stroke-width="1.6"/><circle cx="130.40" cy="523.50" r="6.50" fill="none" stroke="#c9bad4" stroke-width="2.1"/><text x="139.50" y="524.20" font-size="2.3" text-anchor="middle" fill="#444">8</text><text x="121.00" y="524.20" font-size="2.3" text-anchor="middle" fill="#444">20</text></g><g><circle cx="247.20" cy="523.20" r="20.85" fill="none" stroke="#c9bad4" stroke-width="4.89"/><path d="M257.36,544.17A23.30,23.30 0 0 1 249.62,546.37L249.11,541.51A18.41,18.41 0 0 0 255.23,539.77Z" fill="#a8002c" stroke="#a8002c" stroke-width="0.6" stroke-linejoin="round"/><path d="M249.62,546.37A23.30,23.30 0 0 1 235.56,543.38L238.00,539.15A18.41,18.41 0 0 0 249.11,541.51Z" fill="#1d3c7c" stroke="#1d3c7c" stroke-width="0.6" stroke-linejoin="round"/><path d="M230.19,539.12A23.30,23.30 0 0 1 226.30,533.50L230.69,531.33A18.41,18.41 0 0 0 233.76,535.78Z" fill="#1d3c7c" stroke="#1d3c7c" stroke-width="0.6" stroke-linejoin="round"/><path d="M244.60,500.05A23.30,23.30 0 0 1 247.20,499.90L247.20,504.79A18.41,18.41 0 0 0 245.14,504.91Z" fill="#1d3c7c" stroke="#1d3c7c" stroke-width="0.6" stroke-linejoin="round"/><line x1="247.20" y1="504.89" x2="247.20" y2="499.80" stroke="#e4e8f0" stroke-width="0.6"/><line x1="255.18" y1="539.68" x2="257.40" y2="544.26" stroke="#e4e8f0" stroke-width="0.6"/><line x1="249.10" y1="541.41" x2="249.63" y2="546.47" stroke="#e4e8f0" stroke-width="0.6"/><line x1="243.29" y1="541.08" x2="242.20" y2="546.06" stroke="#e4e8f0" stroke-width="0.6"/><line x1="238.05" y1="539.06" x2="235.51" y2="543.47" stroke="#e4e8f0" stroke-width="0.6"/><line x1="233.83" y1="535.71" x2="230.11" y2="539.19" stroke="#e4e8f0" stroke-width="0.6"/><line x1="230.78" y1="531.29" x2="226.21" y2="533.54" stroke="#e4e8f0" stroke-width="0.6"/><line x1="245.16" y1="505.01" x2="244.59" y2="499.95" stroke="#e4e8f0" stroke-width="0.6"/><text x="253.94" y="499.77" font-size="2.3" text-anchor="middle" fill="#333">1</text><text x="265.36" y="506.62" font-size="2.3" text-anchor="middle" fill="#333">2</text><text x="271.32" y="516.99" font-size="2.3" text-anchor="middle" fill="#333">3</text><text x="272.04" y="527.54" font-size="2.3" text-anchor="middle" fill="#333">4</text><text x="268.61" y="537.05" font-size="2.3" text-anchor="middle" fill="#333">5</text><text x="262.14" y="544.12" font-size="2.3" text-anchor="middle" fill="#333">6</text><text x="254.08" y="548.09" font-size="2.3" text-anchor="middle" fill="#333">7</text><text x="245.81" y="549.01" font-size="2.3" text-anchor="middle" fill="#333">8</text><text x="238.14" y="547.36" font-size="2.3" text-anchor="middle" fill="#333">9</text><text x="231.60" y="543.61" font-size="2.3" text-anchor="middle" fill="#333">10</text><text x="226.55" y="538.22" font-size="2.3" text-anchor="middle" fill="#333">11</text><text x="223.31" y="531.65" font-size="2.3" text-anchor="middle" fill="#333">12</text><text x="222.12" y="524.96" font-size="2.3" text-anchor="middle" fill="#333">13</text><text x="222.61" y="518.90" font-size="2.3" text-anchor="middle" fill="#333">14</text><text x="224.40" y="513.46" font-size="2.3" text-anchor="middle" fill="#333">15</text><text x="227.09" y="508.93" font-size="2.3" text-anchor="middle" fill="#333">16</text><text x="230.24" y="505.45" font-size="2.3" text-anchor="middle" fill="#333">17</text><text x="233.69" y="502.80" font-size="2.3" text-anchor="middle" fill="#333">18</text><text x="236.99" y="501.02" font-size="2.3" text-anchor="middle" fill="#333">19</text><text x="240.13" y="499.87" font-size="2.3" text-anchor="middle" fill="#333">20</text><text x="243.09" y="499.19" font-size="2.3" text-anchor="middle" fill="#333">21</text><text x="245.80" y="498.89" font-size="2.3" text-anchor="middle" fill="#333">22</text><path d="M246.00,516.68A6.52,6.52 0 0 1 246.00,529.72" fill="none" stroke="#c9bad4" stroke-width="2.1"/><path d="M246.00,529.72A6.52,6.52 0 0 1 246.00,516.68" fill="none" stroke="#1d3c7c" stroke-width="2.7"/><text x="255.52" y="523.90" font-size="2.3" text-anchor="middle" fill="#444">8</text><text x="236.08" y="523.90" font-size="2.3" text-anchor="middle" fill="#444">20</text></g><g><circle cx="311.40" cy="523.20" r="20.85" fill="none" stroke="#c9bad4" stroke-width="4.89"/><path d="M333.27,531.23A23.30,23.30 0 0 1 328.50,539.02L324.91,535.70A18.41,18.41 0 0 0 328.68,529.54Z" fill="#a8002c" stroke="#a8002c" stroke-width="0.6" stroke-linejoin="round"/><path d="M321.56,544.17A23.30,23.30 0 0 1 313.82,546.37L313.31,541.51A18.41,18.41 0 0 0 319.43,539.77Z" fill="#a8002c" stroke="#a8002c" stroke-width="0.6" stroke-linejoin="round"/><path d="M313.82,546.37A23.30,23.30 0 0 1 299.76,543.38L302.20,539.15A18.41,18.41 0 0 0 313.31,541.51Z" fill="#1d3c7c" stroke="#1d3c7c" stroke-width="0.6" stroke-linejoin="round"/><path d="M294.39,539.12A23.30,23.30 0 0 1 290.50,533.50L294.89,531.33A18.41,18.41 0 0 0 297.96,535.78Z" fill="#1d3c7c" stroke="#1d3c7c" stroke-width="0.6" stroke-linejoin="round"/><path d="M294.20,507.49A23.30,23.30 0 0 1 297.23,504.70L300.21,508.59A18.41,18.41 0 0 0 297.81,510.79Z" fill="#a8002c" stroke="#a8002c" stroke-width="0.6" stroke-linejoin="round"/><path d="M308.80,500.05A23.30,23.30 0 0 1 311.40,499.90L311.40,504.79A18.41,18.41 0 0 0 309.34,504.91Z" fill="#1d3c7c" stroke="#1d3c7c" stroke-width="0.6" stroke-linejoin="round"/><line x1="311.40" y1="504.89" x2="311.40" y2="499.80" stroke="#e4e8f0" stroke-width="0.6"/><line x1="328.59" y1="529.51" x2="333.37" y2="531.27" stroke="#e4e8f0" stroke-width="0.6"/><line x1="324.84" y1="535.63" x2="328.58" y2="539.09" stroke="#e4e8f0" stroke-width="0.6"/><line x1="319.38" y1="539.68" x2="321.60" y2="544.26" stroke="#e4e8f0" stroke-width="0.6"/><line x1="313.30" y1="541.41" x2="313.83" y2="546.47" stroke="#e4e8f0" stroke-width="0.6"/><line x1="307.49" y1="541.08" x2="306.40" y2="546.06" stroke="#e4e8f0" stroke-width="0.6"/><line x1="302.25" y1="539.06" x2="299.71" y2="543.47" stroke="#e4e8f0" stroke-width="0.6"/><line x1="298.03" y1="535.71" x2="294.31" y2="539.19" stroke="#e4e8f0" stroke-width="0.6"/><line x1="294.98" y1="531.29" x2="290.41" y2="533.54" stroke="#e4e8f0" stroke-width="0.6"/><line x1="297.88" y1="510.85" x2="294.12" y2="507.42" stroke="#e4e8f0" stroke-width="0.6"/><line x1="300.27" y1="508.67" x2="297.17" y2="504.62" stroke="#e4e8f0" stroke-width="0.6"/><line x1="309.36" y1="505.01" x2="308.79" y2="499.95" stroke="#e4e8f0" stroke-width="0.6"/><text x="318.14" y="499.77" font-size="2.3" text-anchor="middle" fill="#333">1</text><text x="329.56" y="506.62" font-size="2.3" text-anchor="middle" fill="#333">2</text><text x="335.52" y="516.99" font-size="2.3" text-anchor="middle" fill="#333">3</text><text x="336.24" y="527.54" font-size="2.3" text-anchor="middle" fill="#333">4</text><text x="332.81" y="537.05" font-size="2.3" text-anchor="middle" fill="#333">5</text><text x="326.34" y="544.12" font-size="2.3" text-anchor="middle" fill="#333">6</text><text x="318.28" y="548.09" font-size="2.3" text-anchor="middle" fill="#333">7</text><text x="310.01" y="549.01" font-size="2.3" text-anchor="middle" fill="#333">8</text><text x="302.34" y="547.36" font-size="2.3" text-anchor="middle" fill="#333">9</text><text x="295.80" y="543.61" font-size="2.3" text-anchor="middle" fill="#333">10</text><text x="290.75" y="538.22" font-size="2.3" text-anchor="middle" fill="#333">11</text><text x="287.51" y="531.65" font-size="2.3" text-anchor="middle" fill="#333">12</text><text x="286.32" y="524.96" font-size="2.3" text-anchor="middle" fill="#333">13</text><text x="286.81" y="518.90" font-size="2.3" text-anchor="middle" fill="#333">14</text><text x="288.60" y="513.46" font-size="2.3" text-anchor="middle" fill="#333">15</text><text x="291.29" y="508.93" font-size="2.3" text-anchor="middle" fill="#333">16</text><text x="294.44" y="505.45" font-size="2.3" text-anchor="middle" fill="#333">17</text><text x="297.89" y="502.80" font-size="2.3" text-anchor="middle" fill="#333">18</text><text x="301.19" y="501.02" font-size="2.3" text-anchor="middle" fill="#333">19</text><text x="304.33" y="499.87" font-size="2.3" text-anchor="middle" fill="#333">20</text><text x="307.29" y="499.19" font-size="2.3" text-anchor="middle" fill="#333">21</text><text x="310.00" y="498.89" font-size="2.3" text-anchor="middle" fill="#333">22</text><path d="M310.20,516.68A6.52,6.52 0 0 1 310.20,529.72" fill="none" stroke="#c9bad4" stroke-width="2.1"/><path d="M310.20,529.72A6.52,6.52 0 0 1 310.20,516.68" fill="none" stroke="#1d3c7c" stroke-width="2.7"/><text x="319.72" y="523.90" font-size="2.3" text-anchor="middle" fill="#444">8</text><text x="300.28" y="523.90" font-size="2.3" text-anchor="middle" fill="#444">20</text></g><g><circle cx="424.90" cy="522.80" r="20.41" fill="none" stroke="#c9bad4" stroke-width="4.79"/><path d="M444.94,511.93A22.80,22.80 0 0 1 447.65,521.32L442.87,521.63A18.01,18.01 0 0 0 440.73,514.21Z" fill="#5ea236" stroke="#5ea236" stroke-width="0.6" stroke-linejoin="round"/><path d="M446.30,530.66A22.80,22.80 0 0 1 441.64,538.28L438.12,535.03A18.01,18.01 0 0 0 441.81,529.01Z" fill="#a8002c" stroke="#a8002c" stroke-width="0.6" stroke-linejoin="round"/><path d="M434.84,543.32A22.80,22.80 0 0 1 427.27,545.48L426.77,540.71A18.01,18.01 0 0 0 432.75,539.01Z" fill="#a8002c" stroke="#a8002c" stroke-width="0.6" stroke-linejoin="round"/><path d="M405.38,511.02A22.80,22.80 0 0 1 411.04,504.70L413.95,508.50A18.01,18.01 0 0 0 409.48,513.49Z" fill="#a8002c" stroke="#a8002c" stroke-width="0.6" stroke-linejoin="round"/><path d="M411.04,504.70A22.80,22.80 0 0 1 414.31,502.61L416.53,506.85A18.01,18.01 0 0 0 413.95,508.50Z" fill="#1d3c7c" stroke="#1d3c7c" stroke-width="0.6" stroke-linejoin="round"/><path d="M419.99,500.53A22.80,22.80 0 0 1 422.35,500.14L422.89,504.90A18.01,18.01 0 0 0 421.02,505.21Z" fill="#1d3c7c" stroke="#1d3c7c" stroke-width="0.6" stroke-linejoin="round"/><line x1="440.65" y1="514.26" x2="445.03" y2="511.89" stroke="#e4e8f0" stroke-width="0.6"/><line x1="442.77" y1="521.64" x2="447.75" y2="521.31" stroke="#e4e8f0" stroke-width="0.6"/><line x1="441.71" y1="528.97" x2="446.40" y2="530.69" stroke="#e4e8f0" stroke-width="0.6"/><line x1="438.05" y1="534.96" x2="441.71" y2="538.35" stroke="#e4e8f0" stroke-width="0.6"/><line x1="432.71" y1="538.92" x2="434.88" y2="543.41" stroke="#e4e8f0" stroke-width="0.6"/><line x1="426.76" y1="540.62" x2="427.28" y2="545.58" stroke="#e4e8f0" stroke-width="0.6"/><line x1="409.57" y1="513.54" x2="405.30" y2="510.97" stroke="#e4e8f0" stroke-width="0.6"/><line x1="411.67" y1="510.72" x2="407.99" y2="507.36" stroke="#e4e8f0" stroke-width="0.6"/><line x1="414.01" y1="508.58" x2="410.98" y2="504.62" stroke="#e4e8f0" stroke-width="0.6"/><line x1="416.58" y1="506.94" x2="414.26" y2="502.52" stroke="#e4e8f0" stroke-width="0.6"/><line x1="421.05" y1="505.31" x2="419.97" y2="500.44" stroke="#e4e8f0" stroke-width="0.6"/><line x1="422.90" y1="505.00" x2="422.34" y2="500.04" stroke="#e4e8f0" stroke-width="0.6"/><text x="431.50" y="499.85" font-size="2.3" text-anchor="middle" fill="#333">1</text><text x="442.70" y="506.57" font-size="2.3" text-anchor="middle" fill="#333">2</text><text x="448.54" y="516.73" font-size="2.3" text-anchor="middle" fill="#333">3</text><text x="449.25" y="527.07" font-size="2.3" text-anchor="middle" fill="#333">4</text><text x="445.88" y="536.39" font-size="2.3" text-anchor="middle" fill="#333">5</text><text x="439.55" y="543.31" font-size="2.3" text-anchor="middle" fill="#333">6</text><text x="431.64" y="547.21" font-size="2.3" text-anchor="middle" fill="#333">7</text><text x="423.53" y="548.11" font-size="2.3" text-anchor="middle" fill="#333">8</text><text x="416.02" y="546.49" font-size="2.3" text-anchor="middle" fill="#333">9</text><text x="409.61" y="542.82" font-size="2.3" text-anchor="middle" fill="#333">10</text><text x="404.67" y="537.54" font-size="2.3" text-anchor="middle" fill="#333">11</text><text x="401.49" y="531.09" font-size="2.3" text-anchor="middle" fill="#333">12</text><text x="400.32" y="524.54" font-size="2.3" text-anchor="middle" fill="#333">13</text><text x="400.80" y="518.60" font-size="2.3" text-anchor="middle" fill="#333">14</text><text x="402.55" y="513.27" font-size="2.3" text-anchor="middle" fill="#333">15</text><text x="405.19" y="508.83" font-size="2.3" text-anchor="middle" fill="#333">16</text><text x="408.27" y="505.42" font-size="2.3" text-anchor="middle" fill="#333">17</text><text x="411.66" y="502.82" font-size="2.3" text-anchor="middle" fill="#333">18</text><text x="414.90" y="501.08" font-size="2.3" text-anchor="middle" fill="#333">19</text><text x="417.97" y="499.95" font-size="2.3" text-anchor="middle" fill="#333">20</text><text x="420.87" y="499.28" font-size="2.3" text-anchor="middle" fill="#333">21</text><text x="423.52" y="498.99" font-size="2.3" text-anchor="middle" fill="#333">22</text><path d="M424.24,512.55A10.26,10.26 0 0 1 433.40,519.46" fill="none" stroke="#c9bad4" stroke-width="1.6"/><path d="M424.17,517.46A5.36,5.36 0 1 1 418.35,522.99" fill="none" stroke="#c9bad4" stroke-width="1.7"/><text x="431.85" y="523.78" font-size="2.3" text-anchor="middle" fill="#444">8</text><text x="417.11" y="528.65" font-size="2.3" text-anchor="middle" fill="#444">5</text></g><g><circle cx="487.60" cy="523.30" r="20.67" fill="none" stroke="#c9bad4" stroke-width="4.85"/><path d="M507.91,512.29A23.10,23.10 0 0 1 510.65,521.80L505.81,522.12A18.25,18.25 0 0 0 503.64,514.60Z" fill="#5ea236" stroke="#5ea236" stroke-width="0.6" stroke-linejoin="round"/><path d="M509.28,531.26A23.10,23.10 0 0 1 504.56,538.99L501.00,535.69A18.25,18.25 0 0 0 504.73,529.59Z" fill="#a8002c" stroke="#a8002c" stroke-width="0.6" stroke-linejoin="round"/><path d="M497.67,544.09A23.10,23.10 0 0 1 482.67,545.87L483.70,541.13A18.25,18.25 0 0 0 495.56,539.72Z" fill="#a8002c" stroke="#a8002c" stroke-width="0.6" stroke-linejoin="round"/><path d="M470.73,539.08A23.10,23.10 0 0 1 464.58,521.33L469.42,521.74A18.25,18.25 0 0 0 474.27,535.77Z" fill="#1d3c7c" stroke="#1d3c7c" stroke-width="0.6" stroke-linejoin="round"/><path d="M482.63,500.74A23.10,23.10 0 0 1 485.02,500.34L485.56,505.17A18.25,18.25 0 0 0 483.67,505.48Z" fill="#1d3c7c" stroke="#1d3c7c" stroke-width="0.6" stroke-linejoin="round"/><line x1="503.55" y1="514.65" x2="508.00" y2="512.24" stroke="#e4e8f0" stroke-width="0.6"/><line x1="505.71" y1="522.12" x2="510.75" y2="521.79" stroke="#e4e8f0" stroke-width="0.6"/><line x1="504.64" y1="529.56" x2="509.38" y2="531.30" stroke="#e4e8f0" stroke-width="0.6"/><line x1="500.92" y1="535.62" x2="504.63" y2="539.05" stroke="#e4e8f0" stroke-width="0.6"/><line x1="495.51" y1="539.63" x2="497.71" y2="544.18" stroke="#e4e8f0" stroke-width="0.6"/><line x1="489.49" y1="541.35" x2="490.01" y2="546.37" stroke="#e4e8f0" stroke-width="0.6"/><line x1="483.73" y1="541.03" x2="482.65" y2="545.97" stroke="#e4e8f0" stroke-width="0.6"/><line x1="474.35" y1="535.70" x2="470.66" y2="539.15" stroke="#e4e8f0" stroke-width="0.6"/><line x1="471.32" y1="531.32" x2="466.79" y2="533.55" stroke="#e4e8f0" stroke-width="0.6"/><line x1="469.70" y1="526.29" x2="464.72" y2="527.13" stroke="#e4e8f0" stroke-width="0.6"/><line x1="469.52" y1="521.75" x2="464.48" y2="521.32" stroke="#e4e8f0" stroke-width="0.6"/><line x1="483.70" y1="505.58" x2="482.61" y2="500.64" stroke="#e4e8f0" stroke-width="0.6"/><line x1="485.57" y1="505.26" x2="485.01" y2="500.25" stroke="#e4e8f0" stroke-width="0.6"/><text x="494.28" y="500.06" font-size="2.3" text-anchor="middle" fill="#333">1</text><text x="505.61" y="506.86" font-size="2.3" text-anchor="middle" fill="#333">2</text><text x="511.52" y="517.15" font-size="2.3" text-anchor="middle" fill="#333">3</text><text x="512.24" y="527.61" font-size="2.3" text-anchor="middle" fill="#333">4</text><text x="508.84" y="537.05" font-size="2.3" text-anchor="middle" fill="#333">5</text><text x="502.42" y="544.06" font-size="2.3" text-anchor="middle" fill="#333">6</text><text x="494.42" y="548.00" font-size="2.3" text-anchor="middle" fill="#333">7</text><text x="486.22" y="548.91" font-size="2.3" text-anchor="middle" fill="#333">8</text><text x="478.62" y="547.27" font-size="2.3" text-anchor="middle" fill="#333">9</text><text x="472.12" y="543.55" font-size="2.3" text-anchor="middle" fill="#333">10</text><text x="467.12" y="538.21" font-size="2.3" text-anchor="middle" fill="#333">11</text><text x="463.90" y="531.69" font-size="2.3" text-anchor="middle" fill="#333">12</text><text x="462.72" y="525.05" font-size="2.3" text-anchor="middle" fill="#333">13</text><text x="463.21" y="519.04" font-size="2.3" text-anchor="middle" fill="#333">14</text><text x="464.98" y="513.64" font-size="2.3" text-anchor="middle" fill="#333">15</text><text x="467.65" y="509.15" font-size="2.3" text-anchor="middle" fill="#333">16</text><text x="470.77" y="505.70" font-size="2.3" text-anchor="middle" fill="#333">17</text><text x="474.20" y="503.07" font-size="2.3" text-anchor="middle" fill="#333">18</text><text x="477.47" y="501.30" font-size="2.3" text-anchor="middle" fill="#333">19</text><text x="480.59" y="500.16" font-size="2.3" text-anchor="middle" fill="#333">20</text><text x="483.53" y="499.49" font-size="2.3" text-anchor="middle" fill="#333">21</text><text x="486.21" y="499.19" font-size="2.3" text-anchor="middle" fill="#333">22</text><path d="M486.94,512.92A10.40,10.40 0 0 1 496.23,519.92" fill="none" stroke="#c9bad4" stroke-width="1.6"/><path d="M486.87,517.89A5.43,5.43 0 1 1 480.97,523.49" fill="none" stroke="#c9bad4" stroke-width="1.7"/><text x="494.62" y="524.29" font-size="2.3" text-anchor="middle" fill="#444">8</text><text x="479.76" y="529.19" font-size="2.3" text-anchor="middle" fill="#444">5</text></g><text x="261.00" y="412.20" font-size="8.0" text-anchor="middle" fill="#3d7459" font-weight="normal" font-style="normal" stroke="#3d7459" stroke-width="0.18">Therapy related MDS</text>
</svg><div id="b"></div></div></body></html>
